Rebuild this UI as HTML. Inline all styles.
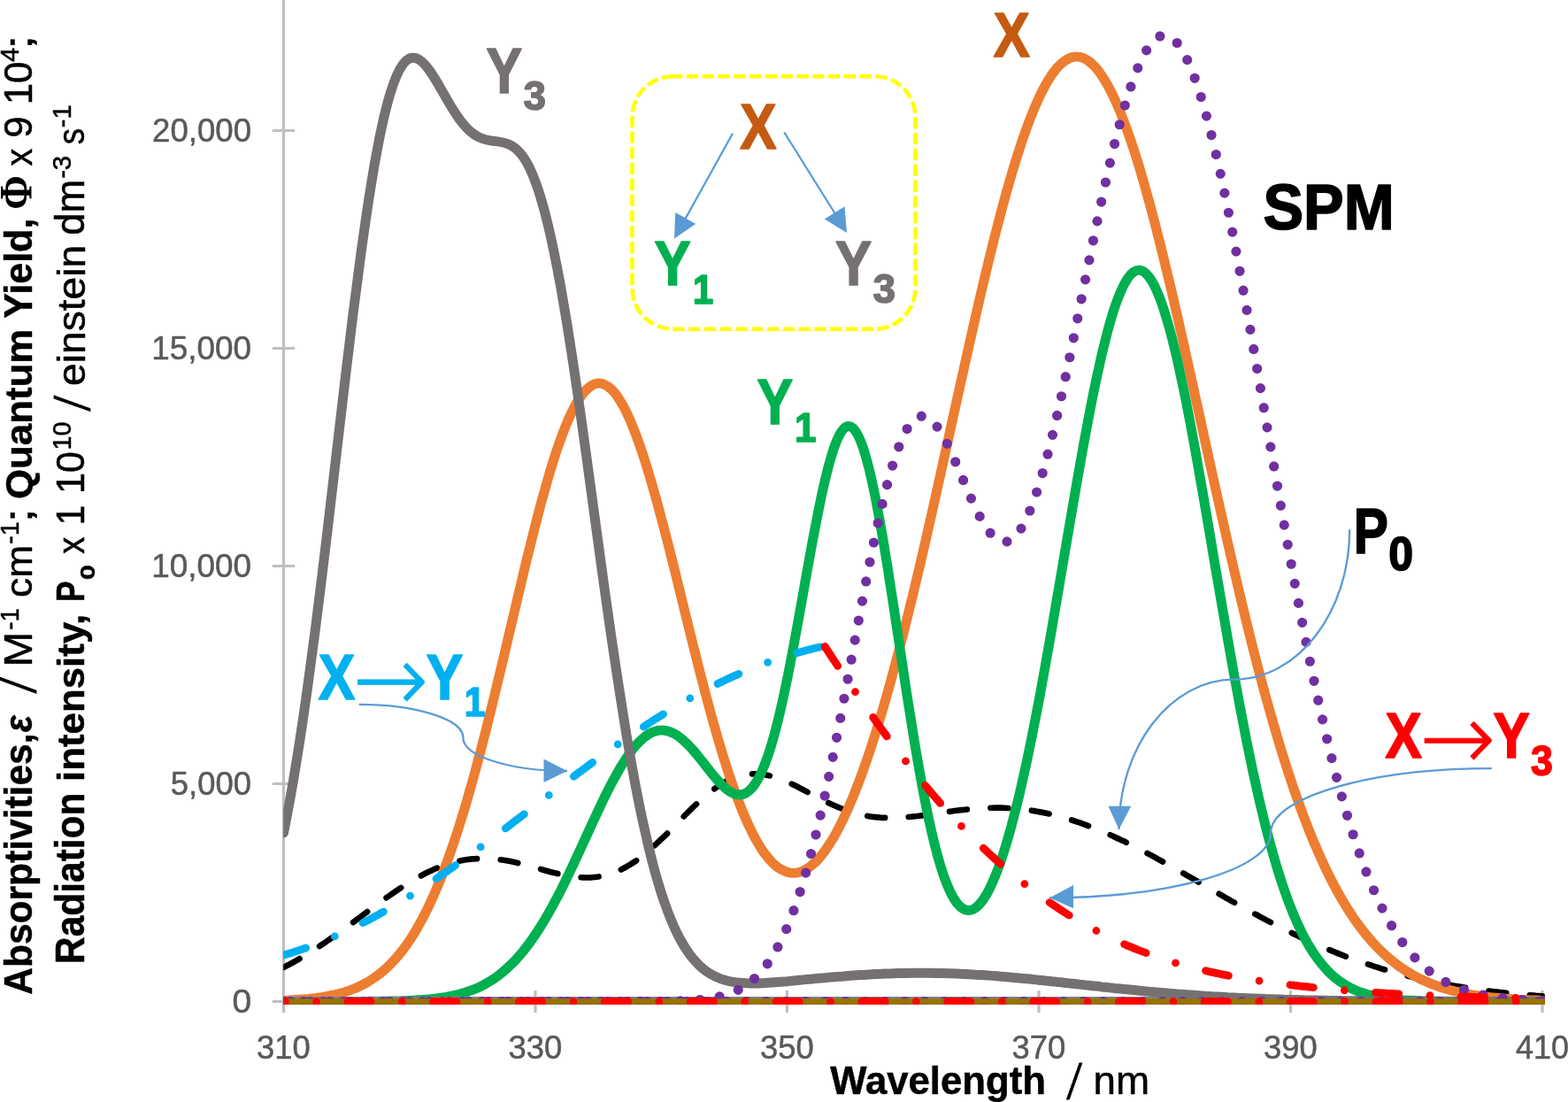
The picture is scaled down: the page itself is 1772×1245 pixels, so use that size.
<!DOCTYPE html>
<html lang="en">
<head>
<meta charset="utf-8">
<title>Absorptivities, quantum yields and radiation intensity versus wavelength</title>
<style>
html,body{margin:0;padding:0;background:#fff}
body{width:1772px;height:1245px;overflow:hidden}
svg{display:block}
.c{fill:none;stroke-linecap:round;stroke-linejoin:round}
</style>
</head>
<body>
<svg width="1772" height="1245" viewBox="0 0 1772 1245">
<rect width="1772" height="1245" fill="#fff"/>
<defs><clipPath id="plot"><rect x="320.2" y="-20" width="1425.70" height="1155.0"/></clipPath></defs>
<g stroke="#BFBFBF" stroke-width="3.2" fill="none">
<path d="M320.5 -5V1144"/>
<path d="M320.5 1131.5H1744.3"/>
<path d="M307.8 1131.5H333M307.8 885.5H333M307.8 639.5H333M307.8 393.5H333M307.8 147.5H333M320.5 1119V1144M605 1119V1144M889.5 1119V1144M1174 1119V1144M1458.5 1119V1144M1743 1119V1144"/>
</g>
<g>
<text transform="matrix(0.3895 0 0 0.3690 262.59 1144.38)" font-family="'Liberation Sans',sans-serif" font-size="100" fill="#595959" stroke="#595959" stroke-width="0.5" stroke-linejoin="round" vector-effect="non-scaling-stroke">0</text>
<text transform="matrix(0.3645 0 0 0.3690 192.79 898.38)" font-family="'Liberation Sans',sans-serif" font-size="100" fill="#595959" stroke="#595959" stroke-width="0.5" stroke-linejoin="round" vector-effect="non-scaling-stroke">5,000</text>
<text transform="matrix(0.3691 0 0 0.3690 171.18 652.38)" font-family="'Liberation Sans',sans-serif" font-size="100" fill="#595959" stroke="#595959" stroke-width="0.5" stroke-linejoin="round" vector-effect="non-scaling-stroke">10,000</text>
<text transform="matrix(0.3691 0 0 0.3690 171.18 406.38)" font-family="'Liberation Sans',sans-serif" font-size="100" fill="#595959" stroke="#595959" stroke-width="0.5" stroke-linejoin="round" vector-effect="non-scaling-stroke">15,000</text>
<text transform="matrix(0.3660 0 0 0.3690 172.12 160.38)" font-family="'Liberation Sans',sans-serif" font-size="100" fill="#595959" stroke="#595959" stroke-width="0.5" stroke-linejoin="round" vector-effect="non-scaling-stroke">20,000</text>
<text transform="matrix(0.3642 0 0 0.3704 289.89 1195.58)" font-family="'Liberation Sans',sans-serif" font-size="100" fill="#595959" stroke="#595959" stroke-width="0.5" stroke-linejoin="round" vector-effect="non-scaling-stroke">310</text>
<text transform="matrix(0.3642 0 0 0.3704 574.39 1195.58)" font-family="'Liberation Sans',sans-serif" font-size="100" fill="#595959" stroke="#595959" stroke-width="0.5" stroke-linejoin="round" vector-effect="non-scaling-stroke">330</text>
<text transform="matrix(0.3642 0 0 0.3704 858.89 1195.58)" font-family="'Liberation Sans',sans-serif" font-size="100" fill="#595959" stroke="#595959" stroke-width="0.5" stroke-linejoin="round" vector-effect="non-scaling-stroke">350</text>
<text transform="matrix(0.3642 0 0 0.3704 1143.39 1195.58)" font-family="'Liberation Sans',sans-serif" font-size="100" fill="#595959" stroke="#595959" stroke-width="0.5" stroke-linejoin="round" vector-effect="non-scaling-stroke">370</text>
<text transform="matrix(0.3642 0 0 0.3704 1427.89 1195.58)" font-family="'Liberation Sans',sans-serif" font-size="100" fill="#595959" stroke="#595959" stroke-width="0.5" stroke-linejoin="round" vector-effect="non-scaling-stroke">390</text>
<text transform="matrix(0.3607 0 0 0.3704 1712.95 1195.58)" font-family="'Liberation Sans',sans-serif" font-size="100" fill="#595959" stroke="#595959" stroke-width="0.5" stroke-linejoin="round" vector-effect="non-scaling-stroke">410</text>
</g>
<g clip-path="url(#plot)">
<path class="c" d="M320.5 1092.9C322.9 1091.7 325.2 1090.4 327.6 1089.2C330 1087.9 332.4 1086.6 334.7 1085.3C337.1 1083.9 339.5 1082.5 341.8 1081.1C344.2 1079.7 346.6 1078.3 348.9 1076.8C351.3 1075.4 353.7 1073.9 356.1 1072.3C358.4 1070.8 360.8 1069.2 363.2 1067.6C365.5 1066.1 367.9 1064.4 370.3 1062.8C372.7 1061.2 375 1059.5 377.4 1057.8C379.8 1056.1 382.1 1054.4 384.5 1052.7C386.9 1051 389.3 1049.3 391.6 1047.5C394 1045.8 396.4 1044 398.7 1042.3C401.1 1040.5 403.5 1038.7 405.9 1037C408.2 1035.2 410.6 1033.4 413 1031.6C415.3 1029.9 417.7 1028.1 420.1 1026.3C422.4 1024.6 424.8 1022.8 427.2 1021.1C429.6 1019.3 431.9 1017.6 434.3 1015.9C436.7 1014.2 439 1012.5 441.4 1010.9C443.8 1009.2 446.2 1007.6 448.5 1006C450.9 1004.4 453.3 1002.8 455.6 1001.3C458 999.8 460.4 998.3 462.8 996.8C465.1 995.4 467.5 994 469.9 992.6C472.2 991.3 474.6 990 477 988.7C479.3 987.5 481.7 986.3 484.1 985.1C486.5 984 488.8 982.9 491.2 981.8C493.6 980.8 495.9 979.8 498.3 978.9C500.7 978 503.1 977.2 505.4 976.4C507.8 975.7 510.2 975 512.5 974.3C514.9 973.7 517.3 973.1 519.6 972.6C522 972.1 524.4 971.7 526.8 971.3C529.1 971 531.5 970.7 533.9 970.4C536.2 970.2 538.6 970.1 541 970C543.4 969.9 545.7 969.9 548.1 969.9C550.5 969.9 552.8 970 555.2 970.2C557.6 970.4 560 970.6 562.3 970.9C564.7 971.1 567.1 971.5 569.4 971.8C571.8 972.2 574.2 972.6 576.5 973.1C578.9 973.6 581.3 974.1 583.7 974.6C586 975.2 588.4 975.8 590.8 976.4C593.1 977 595.5 977.6 597.9 978.3C600.3 978.9 602.6 979.6 605 980.2C607.4 980.9 609.7 981.6 612.1 982.2C614.5 982.9 616.9 983.6 619.2 984.2C621.6 984.9 624 985.5 626.3 986.1C628.7 986.7 631.1 987.3 633.5 987.8C635.8 988.3 638.2 988.8 640.6 989.2C642.9 989.7 645.3 990.1 647.7 990.4C650 990.7 652.4 991 654.8 991.1C657.2 991.3 659.5 991.4 661.9 991.5C664.3 991.5 666.6 991.4 669 991.3C671.4 991.1 673.8 990.8 676.1 990.5C678.5 990.1 680.9 989.7 683.2 989.1C685.6 988.6 688 987.9 690.3 987.1C692.7 986.3 695.1 985.4 697.5 984.4C699.8 983.4 702.2 982.3 704.6 981.1C706.9 979.8 709.3 978.5 711.7 977C714.1 975.6 716.4 974 718.8 972.4C721.2 970.7 723.5 968.9 725.9 967.1C728.3 965.2 730.7 963.3 733 961.2C735.4 959.2 737.8 957.1 740.1 954.9C742.5 952.7 744.9 950.5 747.2 948.2C749.6 945.9 752 943.6 754.4 941.2C756.7 938.8 759.1 936.4 761.5 934C763.8 931.6 766.2 929.1 768.6 926.7C771 924.3 773.3 921.9 775.7 919.5C778.1 917.1 780.4 914.8 782.8 912.4C785.2 910.1 787.6 907.9 789.9 905.7C792.3 903.5 794.7 901.4 797 899.4C799.4 897.4 801.8 895.5 804.1 893.6C806.5 891.8 808.9 890.1 811.3 888.5C813.6 886.9 816 885.4 818.4 884.1C820.7 882.7 823.1 881.5 825.5 880.5C827.9 879.4 830.2 878.4 832.6 877.6C835 876.8 837.3 876.2 839.7 875.7C842.1 875.2 844.5 874.8 846.8 874.6C849.2 874.3 851.6 874.2 853.9 874.3C856.3 874.3 858.7 874.5 861 874.8C863.4 875.1 865.8 875.5 868.2 876C870.5 876.5 872.9 877.2 875.3 877.9C877.6 878.6 880 879.5 882.4 880.4C884.8 881.3 887.1 882.3 889.5 883.3C891.9 884.3 894.2 885.5 896.6 886.6C899 887.8 901.4 889 903.7 890.2C906.1 891.4 908.5 892.6 910.8 893.9C913.2 895.2 915.6 896.4 917.9 897.7C920.3 899 922.7 900.2 925.1 901.4C927.4 902.7 929.8 903.9 932.2 905.1C934.5 906.2 936.9 907.4 939.3 908.5C941.7 909.6 944 910.6 946.4 911.6C948.8 912.6 951.1 913.6 953.5 914.5C955.9 915.4 958.3 916.2 960.6 917C963 917.7 965.4 918.5 967.7 919.1C970.1 919.7 972.5 920.3 974.9 920.8C977.2 921.3 979.6 921.8 982 922.2C984.3 922.6 986.7 922.9 989.1 923.1C991.4 923.4 993.8 923.6 996.2 923.8C998.6 923.9 1000.9 924 1003.3 924C1005.7 924.1 1008 924.1 1010.4 924C1012.8 924 1015.2 923.9 1017.5 923.7C1019.9 923.6 1022.3 923.4 1024.6 923.2C1027 923 1029.4 922.8 1031.8 922.5C1034.1 922.3 1036.5 922 1038.9 921.7C1041.2 921.4 1043.6 921.1 1046 920.7C1048.3 920.4 1050.7 920.1 1053.1 919.7C1055.5 919.4 1057.8 919 1060.2 918.7C1062.6 918.3 1064.9 918 1067.3 917.7C1069.7 917.3 1072.1 917 1074.4 916.7C1076.8 916.3 1079.2 916 1081.5 915.7C1083.9 915.4 1086.3 915.1 1088.7 914.9C1091 914.6 1093.4 914.4 1095.8 914.2C1098.1 913.9 1100.5 913.7 1102.9 913.6C1105.2 913.4 1107.6 913.2 1110 913.1C1112.4 913 1114.7 912.9 1117.1 912.8C1119.5 912.7 1121.8 912.7 1124.2 912.7C1126.6 912.7 1129 912.7 1131.3 912.7C1133.7 912.8 1136.1 912.9 1138.4 913C1140.8 913.1 1143.2 913.2 1145.5 913.4C1147.9 913.6 1150.3 913.8 1152.7 914C1155 914.3 1157.4 914.6 1159.8 914.9C1162.1 915.2 1164.5 915.5 1166.9 915.9C1169.3 916.2 1171.6 916.7 1174 917.1C1176.4 917.5 1178.7 918 1181.1 918.5C1183.5 919 1185.9 919.5 1188.2 920.1C1190.6 920.7 1193 921.2 1195.3 921.9C1197.7 922.5 1200.1 923.2 1202.4 923.8C1204.8 924.5 1207.2 925.2 1209.6 926C1211.9 926.7 1214.3 927.5 1216.7 928.3C1219 929.1 1221.4 929.9 1223.8 930.8C1226.2 931.6 1228.5 932.5 1230.9 933.4C1233.3 934.3 1235.6 935.3 1238 936.2C1240.4 937.2 1242.8 938.1 1245.1 939.1C1247.5 940.2 1249.9 941.2 1252.2 942.2C1254.6 943.3 1257 944.3 1259.3 945.4C1261.7 946.5 1264.1 947.6 1266.5 948.8C1268.8 949.9 1271.2 951 1273.6 952.2C1275.9 953.4 1278.3 954.5 1280.7 955.7C1283.1 956.9 1285.4 958.1 1287.8 959.4C1290.2 960.6 1292.5 961.8 1294.9 963.1C1297.3 964.4 1299.7 965.6 1302 966.9C1304.4 968.2 1306.8 969.5 1309.1 970.8C1311.5 972.1 1313.9 973.4 1316.2 974.7C1318.6 976 1321 977.4 1323.4 978.7C1325.7 980 1328.1 981.4 1330.5 982.7C1332.8 984.1 1335.2 985.4 1337.6 986.8C1340 988.1 1342.3 989.5 1344.7 990.8C1347.1 992.2 1349.4 993.6 1351.8 994.9C1354.2 996.3 1356.6 997.7 1358.9 999.1C1361.3 1000.4 1363.7 1001.8 1366 1003.2C1368.4 1004.5 1370.8 1005.9 1373.1 1007.3C1375.5 1008.6 1377.9 1010 1380.3 1011.3C1382.6 1012.7 1385 1014 1387.4 1015.4C1389.7 1016.7 1392.1 1018.1 1394.5 1019.4C1396.9 1020.8 1399.2 1022.1 1401.6 1023.4C1404 1024.7 1406.3 1026.1 1408.7 1027.4C1411.1 1028.7 1413.5 1030 1415.8 1031.3C1418.2 1032.6 1420.6 1033.8 1422.9 1035.1C1425.3 1036.4 1427.7 1037.7 1430 1038.9C1432.4 1040.2 1434.8 1041.4 1437.2 1042.6C1439.5 1043.9 1441.9 1045.1 1444.3 1046.3C1446.6 1047.5 1449 1048.7 1451.4 1049.9C1453.8 1051.1 1456.1 1052.2 1458.5 1053.4C1460.9 1054.6 1463.2 1055.7 1465.6 1056.8C1468 1058 1470.4 1059.1 1472.7 1060.2C1475.1 1061.3 1477.5 1062.4 1479.8 1063.4C1482.2 1064.5 1484.6 1065.6 1487 1066.6C1489.3 1067.7 1491.7 1068.7 1494.1 1069.7C1496.4 1070.7 1498.8 1071.7 1501.2 1072.7C1503.5 1073.7 1505.9 1074.7 1508.3 1075.6C1510.7 1076.6 1513 1077.5 1515.4 1078.4C1517.8 1079.3 1520.1 1080.3 1522.5 1081.1C1524.9 1082 1527.3 1082.9 1529.6 1083.8C1532 1084.6 1534.4 1085.5 1536.7 1086.3C1539.1 1087.1 1541.5 1087.9 1543.8 1088.7C1546.2 1089.5 1548.6 1090.3 1551 1091.1C1553.3 1091.9 1555.7 1092.6 1558.1 1093.3C1560.4 1094.1 1562.8 1094.8 1565.2 1095.5C1567.6 1096.2 1569.9 1096.9 1572.3 1097.6C1574.7 1098.3 1577 1098.9 1579.4 1099.6C1581.8 1100.2 1584.2 1100.8 1586.5 1101.5C1588.9 1102.1 1591.3 1102.7 1593.6 1103.3C1596 1103.9 1598.4 1104.4 1600.8 1105C1603.1 1105.6 1605.5 1106.1 1607.9 1106.6C1610.2 1107.2 1612.6 1107.7 1615 1108.2C1617.3 1108.7 1619.7 1109.2 1622.1 1109.7C1624.5 1110.2 1626.8 1110.7 1629.2 1111.1C1631.6 1111.6 1633.9 1112 1636.3 1112.5C1638.7 1112.9 1641.1 1113.3 1643.4 1113.7C1645.8 1114.1 1648.2 1114.5 1650.5 1114.9C1652.9 1115.3 1655.3 1115.7 1657.6 1116.1C1660 1116.4 1662.4 1116.8 1664.8 1117.1C1667.1 1117.5 1669.5 1117.8 1671.9 1118.1C1674.2 1118.5 1676.6 1118.8 1679 1119.1C1681.4 1119.4 1683.7 1119.7 1686.1 1120C1688.5 1120.3 1690.8 1120.5 1693.2 1120.8C1695.6 1121.1 1698 1121.4 1700.3 1121.6C1702.7 1121.9 1705.1 1122.1 1707.4 1122.3C1709.8 1122.6 1712.2 1122.8 1714.5 1123C1716.9 1123.3 1719.3 1123.5 1721.7 1123.7C1724 1123.9 1726.4 1124.1 1728.8 1124.3C1731.1 1124.5 1733.5 1124.7 1735.9 1124.9C1738.3 1125 1740.6 1125.2 1743 1125.4" stroke="#000" stroke-width="6.66" stroke-dasharray="19.98 26.65" stroke-dashoffset="-0.5"/>
<path class="c" d="M320.5 1130.4C322.9 1130.3 325.2 1130.2 327.6 1130C330 1129.9 332.4 1129.8 334.7 1129.6C337.1 1129.5 339.5 1129.3 341.8 1129.1C344.2 1128.9 346.6 1128.7 348.9 1128.5C351.3 1128.2 353.7 1127.9 356.1 1127.7C358.4 1127.4 360.8 1127 363.2 1126.7C365.5 1126.3 367.9 1125.9 370.3 1125.5C372.7 1125 375 1124.5 377.4 1124C379.8 1123.4 382.1 1122.9 384.5 1122.2C386.9 1121.6 389.3 1120.8 391.6 1120.1C394 1119.3 396.4 1118.4 398.7 1117.5C401.1 1116.6 403.5 1115.5 405.9 1114.4C408.2 1113.3 410.6 1112.1 413 1110.8C415.3 1109.5 417.7 1108.1 420.1 1106.5C422.4 1105 424.8 1103.4 427.2 1101.6C429.6 1099.8 431.9 1097.8 434.3 1095.8C436.7 1093.7 439 1091.5 441.4 1089.1C443.8 1086.7 446.2 1084.1 448.5 1081.4C450.9 1078.6 453.3 1075.7 455.6 1072.6C458 1069.4 460.4 1066.1 462.8 1062.6C465.1 1059.1 467.5 1055.3 469.9 1051.3C472.2 1047.3 474.6 1043.1 477 1038.7C479.3 1034.3 481.7 1029.6 484.1 1024.6C486.5 1019.7 488.8 1014.5 491.2 1009.1C493.6 1003.6 495.9 997.9 498.3 991.9C500.7 986 503.1 979.7 505.4 973.2C507.8 966.7 510.2 959.9 512.5 952.9C514.9 945.9 517.3 938.6 519.6 931C522 923.5 524.4 915.7 526.8 907.6C529.1 899.6 531.5 891.3 533.9 882.8C536.2 874.2 538.6 865.5 541 856.5C543.4 847.6 545.7 838.4 548.1 829.1C550.5 819.8 552.8 810.3 555.2 800.6C557.6 791 560 781.2 562.3 771.3C564.7 761.5 567.1 751.5 569.4 741.5C571.8 731.4 574.2 721.3 576.5 711.2C578.9 701.1 581.3 691 583.7 681C586 670.9 588.4 660.9 590.8 651C593.1 641.1 595.5 631.3 597.9 621.7C600.3 612.1 602.6 602.6 605 593.3C607.4 584.1 609.7 575 612.1 566.3C614.5 557.5 616.9 549 619.2 540.9C621.6 532.7 624 524.9 626.3 517.5C628.7 510.1 631.1 503.1 633.5 496.5C635.8 489.9 638.2 483.7 640.6 478C642.9 472.4 645.3 467.2 647.7 462.5C650 457.8 652.4 453.7 654.8 450.1C657.2 446.5 659.5 443.4 661.9 441C664.3 438.5 666.6 436.6 669 435.3C671.4 434 673.8 433.2 676.1 433.1C678.5 433 680.9 433.4 683.2 434.5C685.6 435.5 688 437.1 690.3 439.3C692.7 441.5 695.1 444.3 697.5 447.6C699.8 451 702.2 454.8 704.6 459.2C706.9 463.6 709.3 468.5 711.7 473.9C714.1 479.3 716.4 485.2 718.8 491.5C721.2 497.8 723.5 504.6 725.9 511.7C728.3 518.9 730.7 526.4 733 534.2C735.4 542.1 737.8 550.3 740.1 558.7C742.5 567.2 744.9 575.9 747.2 584.8C749.6 593.7 752 602.9 754.4 612.2C756.7 621.5 759.1 630.9 761.5 640.4C763.8 650 766.2 659.6 768.6 669.2C771 678.8 773.3 688.5 775.7 698.2C778.1 707.8 780.4 717.4 782.8 726.9C785.2 736.5 787.6 745.9 789.9 755.2C792.3 764.5 794.7 773.7 797 782.7C799.4 791.7 801.8 800.5 804.1 809.1C806.5 817.7 808.9 826.1 811.3 834.3C813.6 842.4 816 850.3 818.4 857.9C820.7 865.5 823.1 872.8 825.5 879.8C827.9 886.8 830.2 893.5 832.6 899.9C835 906.2 837.3 912.3 839.7 918C842.1 923.7 844.5 929 846.8 934C849.2 939 851.6 943.7 853.9 948C856.3 952.3 858.7 956.2 861 959.8C863.4 963.3 865.8 966.5 868.2 969.4C870.5 972.2 872.9 974.7 875.3 976.8C877.6 978.9 880 980.7 882.4 982.1C884.8 983.5 887.1 984.5 889.5 985.2C891.9 985.9 894.2 986.3 896.6 986.3C899 986.3 901.4 985.9 903.7 985.2C906.1 984.5 908.5 983.5 910.8 982.2C913.2 980.8 915.6 979.1 917.9 977.1C920.3 975.1 922.7 972.8 925.1 970.2C927.4 967.5 929.8 964.6 932.2 961.4C934.5 958.1 936.9 954.6 939.3 950.7C941.7 946.9 944 942.7 946.4 938.3C948.8 933.9 951.1 929.2 953.5 924.2C955.9 919.2 958.3 913.9 960.6 908.4C963 902.8 965.4 897 967.7 891C970.1 884.9 972.5 878.6 974.9 872C977.2 865.4 979.6 858.6 982 851.5C984.3 844.4 986.7 837.1 989.1 829.6C991.4 822 993.8 814.2 996.2 806.2C998.6 798.2 1000.9 790 1003.3 781.6C1005.7 773.2 1008 764.6 1010.4 755.7C1012.8 746.9 1015.2 737.9 1017.5 728.7C1019.9 719.5 1022.3 710.1 1024.6 700.6C1027 691.1 1029.4 681.4 1031.8 671.5C1034.1 661.7 1036.5 651.7 1038.9 641.6C1041.2 631.5 1043.6 621.3 1046 610.9C1048.3 600.6 1050.7 590.2 1053.1 579.6C1055.5 569.1 1057.8 558.5 1060.2 547.9C1062.6 537.2 1064.9 526.5 1067.3 515.8C1069.7 505 1072.1 494.3 1074.4 483.5C1076.8 472.7 1079.2 461.9 1081.5 451.2C1083.9 440.4 1086.3 429.7 1088.7 419.1C1091 408.4 1093.4 397.8 1095.8 387.2C1098.1 376.7 1100.5 366.3 1102.9 355.9C1105.2 345.6 1107.6 335.4 1110 325.3C1112.4 315.3 1114.7 305.3 1117.1 295.6C1119.5 285.9 1121.8 276.3 1124.2 266.9C1126.6 257.6 1129 248.4 1131.3 239.5C1133.7 230.6 1136.1 221.9 1138.4 213.5C1140.8 205.1 1143.2 197 1145.5 189.2C1147.9 181.3 1150.3 173.8 1152.7 166.5C1155 159.3 1157.4 152.4 1159.8 145.8C1162.1 139.3 1164.5 133.1 1166.9 127.2C1169.3 121.4 1171.6 115.9 1174 110.8C1176.4 105.7 1178.7 101 1181.1 96.7C1183.5 92.4 1185.9 88.5 1188.2 85C1190.6 81.6 1193 78.5 1195.3 75.9C1197.7 73.2 1200.1 71 1202.4 69.3C1204.8 67.5 1207.2 66.2 1209.6 65.3C1211.9 64.5 1214.3 64 1216.7 64.1C1219 64.1 1221.4 64.5 1223.8 65.4C1226.2 66.3 1228.5 67.7 1230.9 69.5C1233.3 71.3 1235.6 73.5 1238 76.1C1240.4 78.8 1242.8 81.9 1245.1 85.4C1247.5 88.9 1249.9 92.8 1252.2 97.1C1254.6 101.5 1257 106.2 1259.3 111.3C1261.7 116.4 1264.1 121.9 1266.5 127.8C1268.8 133.7 1271.2 139.9 1273.6 146.5C1275.9 153.1 1278.3 160 1280.7 167.3C1283.1 174.5 1285.4 182.1 1287.8 189.9C1290.2 197.8 1292.5 206 1294.9 214.4C1297.3 222.8 1299.7 231.5 1302 240.4C1304.4 249.4 1306.8 258.5 1309.1 267.9C1311.5 277.3 1313.9 286.9 1316.2 296.6C1318.6 306.4 1321 316.3 1323.4 326.4C1325.7 336.5 1328.1 346.7 1330.5 357.1C1332.8 367.4 1335.2 377.9 1337.6 388.4C1340 398.9 1342.3 409.6 1344.7 420.3C1347.1 430.9 1349.4 441.7 1351.8 452.5C1354.2 463.2 1356.6 474 1358.9 484.8C1361.3 495.6 1363.7 506.4 1366 517.2C1368.4 527.9 1370.8 538.7 1373.1 549.4C1375.5 560 1377.9 570.7 1380.3 581.2C1382.6 591.8 1385 602.3 1387.4 612.7C1389.7 623.1 1392.1 633.4 1394.5 643.5C1396.9 653.7 1399.2 663.8 1401.6 673.7C1404 683.6 1406.3 693.4 1408.7 703.1C1411.1 712.7 1413.5 722.3 1415.8 731.6C1418.2 740.9 1420.6 750.1 1422.9 759.1C1425.3 768.1 1427.7 777 1430 785.6C1432.4 794.3 1434.8 802.8 1437.2 811.1C1439.5 819.3 1441.9 827.4 1444.3 835.3C1446.6 843.3 1449 851 1451.4 858.5C1453.8 866 1456.1 873.3 1458.5 880.4C1460.9 887.6 1463.2 894.5 1465.6 901.2C1468 907.9 1470.4 914.5 1472.7 920.8C1475.1 927.1 1477.5 933.2 1479.8 939.2C1482.2 945.1 1484.6 950.9 1487 956.4C1489.3 962 1491.7 967.3 1494.1 972.5C1496.4 977.7 1498.8 982.7 1501.2 987.5C1503.5 992.3 1505.9 996.9 1508.3 1001.3C1510.7 1005.8 1513 1010.1 1515.4 1014.2C1517.8 1018.3 1520.1 1022.2 1522.5 1026C1524.9 1029.8 1527.3 1033.4 1529.6 1036.9C1532 1040.4 1534.4 1043.7 1536.7 1046.9C1539.1 1050 1541.5 1053.1 1543.8 1056C1546.2 1058.9 1548.6 1061.6 1551 1064.3C1553.3 1066.9 1555.7 1069.4 1558.1 1071.8C1560.4 1074.2 1562.8 1076.5 1565.2 1078.6C1567.6 1080.8 1569.9 1082.8 1572.3 1084.8C1574.7 1086.7 1577 1088.6 1579.4 1090.3C1581.8 1092.1 1584.2 1093.7 1586.5 1095.3C1588.9 1096.9 1591.3 1098.4 1593.6 1099.8C1596 1101.2 1598.4 1102.5 1600.8 1103.7C1603.1 1105 1605.5 1106.2 1607.9 1107.3C1610.2 1108.4 1612.6 1109.4 1615 1110.4C1617.3 1111.4 1619.7 1112.3 1622.1 1113.2C1624.5 1114.1 1626.8 1114.9 1629.2 1115.7C1631.6 1116.4 1633.9 1117.1 1636.3 1117.8C1638.7 1118.5 1641.1 1119.1 1643.4 1119.7C1645.8 1120.3 1648.2 1120.8 1650.5 1121.4C1652.9 1121.9 1655.3 1122.4 1657.6 1122.8C1660 1123.3 1662.4 1123.7 1664.8 1124.1C1667.1 1124.5 1669.5 1124.8 1671.9 1125.2C1674.2 1125.5 1676.6 1125.8 1679 1126.1C1681.4 1126.4 1683.7 1126.7 1686.1 1126.9C1688.5 1127.2 1690.8 1127.4 1693.2 1127.6C1695.6 1127.8 1698 1128 1700.3 1128.2C1702.7 1128.4 1705.1 1128.6 1707.4 1128.7C1709.8 1128.9 1712.2 1129 1714.5 1129.2C1716.9 1129.3 1719.3 1129.4 1721.7 1129.6C1724 1129.7 1726.4 1129.8 1728.8 1129.9C1731.1 1130 1733.5 1130.1 1735.9 1130.1C1738.3 1130.2 1740.6 1130.3 1743 1130.4" stroke="#ED7D31" stroke-width="11"/>
<path class="c" d="M320.5 1131.5C322.9 1131.5 325.2 1131.5 327.6 1131.5C330 1131.5 332.4 1131.5 334.7 1131.5C337.1 1131.5 339.5 1131.5 341.8 1131.5C344.2 1131.5 346.6 1131.5 348.9 1131.5C351.3 1131.5 353.7 1131.5 356.1 1131.5C358.4 1131.5 360.8 1131.5 363.2 1131.5C365.5 1131.5 367.9 1131.5 370.3 1131.5C372.7 1131.5 375 1131.5 377.4 1131.5C379.8 1131.5 382.1 1131.5 384.5 1131.5C386.9 1131.5 389.3 1131.5 391.6 1131.5C394 1131.4 396.4 1131.4 398.7 1131.4C401.1 1131.4 403.5 1131.4 405.9 1131.4C408.2 1131.4 410.6 1131.4 413 1131.4C415.3 1131.4 417.7 1131.3 420.1 1131.3C422.4 1131.3 424.8 1131.3 427.2 1131.2C429.6 1131.2 431.9 1131.2 434.3 1131.2C436.7 1131.1 439 1131.1 441.4 1131C443.8 1131 446.2 1130.9 448.5 1130.9C450.9 1130.8 453.3 1130.7 455.6 1130.7C458 1130.6 460.4 1130.5 462.8 1130.4C465.1 1130.3 467.5 1130.1 469.9 1130C472.2 1129.9 474.6 1129.7 477 1129.6C479.3 1129.4 481.7 1129.2 484.1 1129C486.5 1128.7 488.8 1128.5 491.2 1128.2C493.6 1128 495.9 1127.6 498.3 1127.3C500.7 1127 503.1 1126.6 505.4 1126.2C507.8 1125.7 510.2 1125.3 512.5 1124.7C514.9 1124.2 517.3 1123.6 519.6 1123C522 1122.4 524.4 1121.7 526.8 1120.9C529.1 1120.1 531.5 1119.3 533.9 1118.4C536.2 1117.5 538.6 1116.5 541 1115.4C543.4 1114.3 545.7 1113.1 548.1 1111.8C550.5 1110.5 552.8 1109.1 555.2 1107.6C557.6 1106.1 560 1104.5 562.3 1102.8C564.7 1101 567.1 1099.1 569.4 1097.1C571.8 1095.1 574.2 1093 576.5 1090.7C578.9 1088.4 581.3 1086 583.7 1083.4C586 1080.8 588.4 1078.1 590.8 1075.2C593.1 1072.3 595.5 1069.3 597.9 1066C600.3 1062.8 602.6 1059.5 605 1055.9C607.4 1052.4 609.7 1048.7 612.1 1044.9C614.5 1041 616.9 1037 619.2 1032.9C621.6 1028.7 624 1024.5 626.3 1020C628.7 1015.6 631.1 1011.1 633.5 1006.4C635.8 1001.7 638.2 996.9 640.6 992C642.9 987.2 645.3 982.2 647.7 977.1C650 972.1 652.4 967 654.8 961.9C657.2 956.7 659.5 951.5 661.9 946.4C664.3 941.2 666.6 936 669 930.8C671.4 925.7 673.8 920.6 676.1 915.6C678.5 910.5 680.9 905.6 683.2 900.7C685.6 895.9 688 891.2 690.3 886.6C692.7 882 695.1 877.6 697.5 873.4C699.8 869.2 702.2 865.2 704.6 861.5C706.9 857.7 709.3 854.2 711.7 850.9C714.1 847.6 716.4 844.6 718.8 841.9C721.2 839.2 723.5 836.9 725.9 834.8C728.3 832.7 730.7 830.9 733 829.5C735.4 828.1 737.8 827 740.1 826.3C742.5 825.5 744.9 825.1 747.2 825.1C749.6 825 752 825.3 754.4 825.9C756.7 826.5 759.1 827.5 761.5 828.7C763.8 829.9 766.2 831.5 768.6 833.3C771 835.1 773.3 837.2 775.7 839.5C778.1 841.8 780.4 844.3 782.8 847C785.2 849.7 787.6 852.5 789.9 855.5C792.3 858.4 794.7 861.4 797 864.4C799.4 867.5 801.8 870.5 804.1 873.5C806.5 876.4 808.9 879.3 811.3 881.9C813.6 884.6 816 887.1 818.4 889.2C820.7 891.4 823.1 893.3 825.5 894.7C827.9 896.2 830.2 897.2 832.6 897.7C835 898.2 837.3 898.1 839.7 897.4C842.1 896.7 844.5 895.4 846.8 893.3C849.2 891.2 851.6 888.4 853.9 884.8C856.3 881.1 858.7 876.7 861 871.4C863.4 866.1 865.8 859.9 868.2 852.9C870.5 845.9 872.9 838 875.3 829.2C877.6 820.5 880 811 882.4 800.7C884.8 790.4 887.1 779.4 889.5 767.7C891.9 756.1 894.2 743.9 896.6 731.3C899 718.6 901.4 705.6 903.7 692.4C906.1 679.2 908.5 665.8 910.8 652.5C913.2 639.2 915.6 626 917.9 613.2C920.3 600.4 922.7 588 925.1 576.2C927.4 564.5 929.8 553.4 932.2 543.3C934.5 533.2 936.9 524.1 939.3 516.1C941.7 508.2 944 501.5 946.4 496.1C948.8 490.8 951.1 486.8 953.5 484.4C955.9 482 958.3 481.1 960.6 481.8C963 482.5 965.4 484.7 967.7 488.5C970.1 492.3 972.5 497.7 974.9 504.5C977.2 511.3 979.6 519.5 982 529C984.3 538.5 986.7 549.3 989.1 561.1C991.4 573 993.8 585.8 996.2 599.5C998.6 613.1 1000.9 627.6 1003.3 642.5C1005.7 657.5 1008 672.9 1010.4 688.5C1012.8 704.2 1015.2 720 1017.5 735.8C1019.9 751.6 1022.3 767.3 1024.6 782.7C1027 798.1 1029.4 813.2 1031.8 827.8C1034.1 842.4 1036.5 856.4 1038.9 869.8C1041.2 883.2 1043.6 895.9 1046 907.8C1048.3 919.7 1050.7 930.8 1053.1 941C1055.5 951.2 1057.8 960.6 1060.2 969C1062.6 977.4 1064.9 985 1067.3 991.6C1069.7 998.2 1072.1 1003.8 1074.4 1008.6C1076.8 1013.4 1079.2 1017.3 1081.5 1020.3C1083.9 1023.3 1086.3 1025.5 1088.7 1026.8C1091 1028.1 1093.4 1028.7 1095.8 1028.4C1098.1 1028.1 1100.5 1027.1 1102.9 1025.3C1105.2 1023.6 1107.6 1021.1 1110 1017.9C1112.4 1014.7 1114.7 1010.8 1117.1 1006.3C1119.5 1001.8 1121.8 996.7 1124.2 990.9C1126.6 985.2 1129 978.8 1131.3 971.9C1133.7 964.9 1136.1 957.4 1138.4 949.4C1140.8 941.3 1143.2 932.7 1145.5 923.6C1147.9 914.4 1150.3 904.8 1152.7 894.7C1155 884.6 1157.4 874 1159.8 863C1162.1 851.9 1164.5 840.5 1166.9 828.6C1169.3 816.8 1171.6 804.5 1174 792C1176.4 779.4 1178.7 766.5 1181.1 753.3C1183.5 740.2 1185.9 726.7 1188.2 713.1C1190.6 699.5 1193 685.7 1195.3 671.8C1197.7 657.8 1200.1 643.8 1202.4 629.8C1204.8 615.8 1207.2 601.8 1209.6 587.9C1211.9 574 1214.3 560.2 1216.7 546.6C1219 533 1221.4 519.6 1223.8 506.5C1226.2 493.4 1228.5 480.7 1230.9 468.4C1233.3 456.1 1235.6 444.2 1238 432.9C1240.4 421.6 1242.8 410.8 1245.1 400.6C1247.5 390.5 1249.9 381 1252.2 372.3C1254.6 363.6 1257 355.6 1259.3 348.4C1261.7 341.2 1264.1 334.8 1266.5 329.4C1268.8 323.9 1271.2 319.3 1273.6 315.7C1275.9 312.1 1278.3 309.3 1280.7 307.6C1283.1 305.9 1285.4 305.1 1287.8 305.3C1290.2 305.5 1292.5 306.6 1294.9 308.8C1297.3 310.9 1299.7 314 1302 318C1304.4 322 1306.8 327 1309.1 332.8C1311.5 338.6 1313.9 345.3 1316.2 352.8C1318.6 360.3 1321 368.6 1323.4 377.6C1325.7 386.7 1328.1 396.4 1330.5 406.8C1332.8 417.2 1335.2 428.2 1337.6 439.8C1340 451.3 1342.3 463.4 1344.7 475.8C1347.1 488.3 1349.4 501.2 1351.8 514.4C1354.2 527.6 1356.6 541.1 1358.9 554.8C1361.3 568.5 1363.7 582.3 1366 596.3C1368.4 610.3 1370.8 624.3 1373.1 638.3C1375.5 652.3 1377.9 666.3 1380.3 680.2C1382.6 694.1 1385 707.9 1387.4 721.5C1389.7 735.1 1392.1 748.5 1394.5 761.6C1396.9 774.7 1399.2 787.6 1401.6 800.1C1404 812.6 1406.3 824.9 1408.7 836.7C1411.1 848.5 1413.5 860 1415.8 871.1C1418.2 882.2 1420.6 892.8 1422.9 903.1C1425.3 913.3 1427.7 923.2 1430 932.6C1432.4 942 1434.8 950.9 1437.2 959.5C1439.5 968 1441.9 976.1 1444.3 983.8C1446.6 991.4 1449 998.7 1451.4 1005.5C1453.8 1012.4 1456.1 1018.8 1458.5 1024.8C1460.9 1030.9 1463.2 1036.5 1465.6 1041.8C1468 1047.1 1470.4 1052 1472.7 1056.6C1475.1 1061.2 1477.5 1065.5 1479.8 1069.4C1482.2 1073.4 1484.6 1077 1487 1080.4C1489.3 1083.8 1491.7 1086.9 1494.1 1089.7C1496.4 1092.6 1498.8 1095.2 1501.2 1097.6C1503.5 1100 1505.9 1102.2 1508.3 1104.2C1510.7 1106.2 1513 1108 1515.4 1109.6C1517.8 1111.3 1520.1 1112.8 1522.5 1114.1C1524.9 1115.5 1527.3 1116.7 1529.6 1117.8C1532 1118.9 1534.4 1119.9 1536.7 1120.8C1539.1 1121.6 1541.5 1122.4 1543.8 1123.1C1546.2 1123.8 1548.6 1124.5 1551 1125C1553.3 1125.6 1555.7 1126.1 1558.1 1126.5C1560.4 1127 1562.8 1127.4 1565.2 1127.7C1567.6 1128.1 1569.9 1128.4 1572.3 1128.6C1574.7 1128.9 1577 1129.1 1579.4 1129.4C1581.8 1129.6 1584.2 1129.7 1586.5 1129.9C1588.9 1130.1 1591.3 1130.2 1593.6 1130.3C1596 1130.4 1598.4 1130.5 1600.8 1130.6C1603.1 1130.7 1605.5 1130.8 1607.9 1130.9C1610.2 1130.9 1612.6 1131 1615 1131C1617.3 1131.1 1619.7 1131.1 1622.1 1131.2C1624.5 1131.2 1626.8 1131.2 1629.2 1131.3C1631.6 1131.3 1633.9 1131.3 1636.3 1131.3C1638.7 1131.4 1641.1 1131.4 1643.4 1131.4C1645.8 1131.4 1648.2 1131.4 1650.5 1131.4C1652.9 1131.4 1655.3 1131.4 1657.6 1131.4C1660 1131.4 1662.4 1131.5 1664.8 1131.5C1667.1 1131.5 1669.5 1131.5 1671.9 1131.5C1674.2 1131.5 1676.6 1131.5 1679 1131.5C1681.4 1131.5 1683.7 1131.5 1686.1 1131.5C1688.5 1131.5 1690.8 1131.5 1693.2 1131.5C1695.6 1131.5 1698 1131.5 1700.3 1131.5C1702.7 1131.5 1705.1 1131.5 1707.4 1131.5C1709.8 1131.5 1712.2 1131.5 1714.5 1131.5C1716.9 1131.5 1719.3 1131.5 1721.7 1131.5C1724 1131.5 1726.4 1131.5 1728.8 1131.5C1731.1 1131.5 1733.5 1131.5 1735.9 1131.5C1738.3 1131.5 1740.6 1131.5 1743 1131.5" stroke="#00B050" stroke-width="11"/>
<path class="c" d="M320.5 1131.5H1745.9" stroke="#808080" stroke-width="11"/>
<path class="c" d="M320.5 940.8C322.9 929.2 325.2 916.8 327.6 903.8C330 890.7 332.4 876.9 334.7 862.4C337.1 847.8 339.5 832.5 341.8 816.6C344.2 800.6 346.6 784 348.9 766.7C351.3 749.4 353.7 731.5 356.1 713.1C358.4 694.7 360.8 675.8 363.2 656.4C365.5 637.1 367.9 617.4 370.3 597.4C372.7 577.4 375 557.2 377.4 536.8C379.8 516.5 382.1 496.2 384.5 475.9C386.9 455.6 389.3 435.5 391.6 415.6C394 395.8 396.4 376.2 398.7 357.2C401.1 338.2 403.5 319.6 405.9 301.8C408.2 284 410.6 266.8 413 250.6C415.3 234.3 417.7 218.9 420.1 204.5C422.4 190.1 424.8 176.7 427.2 164.4C429.6 152.1 431.9 140.9 434.3 130.9C436.7 120.9 439 112 441.4 104.3C443.8 96.7 446.2 90.2 448.5 84.9C450.9 79.6 453.3 75.4 455.6 72.3C458 69.2 460.4 67.2 462.8 66.1C465.1 65 467.5 64.9 469.9 65.6C472.2 66.3 474.6 67.8 477 69.9C479.3 72 481.7 74.7 484.1 77.9C486.5 81 488.8 84.6 491.2 88.5C493.6 92.3 495.9 96.4 498.3 100.5C500.7 104.6 503.1 108.8 505.4 112.9C507.8 117 510.2 121 512.5 124.7C514.9 128.5 517.3 132 519.6 135.2C522 138.4 524.4 141.3 526.8 143.8C529.1 146.4 531.5 148.5 533.9 150.4C536.2 152.2 538.6 153.7 541 154.8C543.4 156 545.7 156.9 548.1 157.5C550.5 158.2 552.8 158.6 555.2 159C557.6 159.3 560 159.6 562.3 159.9C564.7 160.2 567.1 160.6 569.4 161.2C571.8 161.8 574.2 162.6 576.5 163.7C578.9 164.9 581.3 166.5 583.7 168.6C586 170.7 588.4 173.3 590.8 176.6C593.1 179.9 595.5 183.9 597.9 188.6C600.3 193.4 602.6 198.9 605 205.3C607.4 211.6 609.7 218.8 612.1 226.9C614.5 235 616.9 244 619.2 253.8C621.6 263.7 624 274.4 626.3 286C628.7 297.5 631.1 309.9 633.5 323.1C635.8 336.3 638.2 350.2 640.6 364.7C642.9 379.3 645.3 394.5 647.7 410.2C650 425.9 652.4 442.1 654.8 458.7C657.2 475.3 659.5 492.3 661.9 509.4C664.3 526.6 666.6 544 669 561.4C671.4 578.9 673.8 596.3 676.1 613.7C678.5 631.1 680.9 648.4 683.2 665.5C685.6 682.5 688 699.3 690.3 715.8C692.7 732.2 695.1 748.3 697.5 764C699.8 779.6 702.2 794.8 704.6 809.5C706.9 824.1 709.3 838.3 711.7 851.8C714.1 865.3 716.4 878.3 718.8 890.6C721.2 902.9 723.5 914.6 725.9 925.7C728.3 936.7 730.7 947.2 733 957C735.4 966.8 737.8 976 740.1 984.6C742.5 993.1 744.9 1001.1 747.2 1008.5C749.6 1015.9 752 1022.8 754.4 1029.1C756.7 1035.4 759.1 1041.1 761.5 1046.4C763.8 1051.7 766.2 1056.6 768.6 1061C771 1065.3 773.3 1069.3 775.7 1072.9C778.1 1076.5 780.4 1079.7 782.8 1082.6C785.2 1085.4 787.6 1088 789.9 1090.3C792.3 1092.6 794.7 1094.6 797 1096.3C799.4 1098.1 801.8 1099.6 804.1 1101C806.5 1102.3 808.9 1103.5 811.3 1104.5C813.6 1105.5 816 1106.3 818.4 1107C820.7 1107.7 823.1 1108.3 825.5 1108.8C827.9 1109.3 830.2 1109.6 832.6 1109.9C835 1110.2 837.3 1110.4 839.7 1110.6C842.1 1110.8 844.5 1110.9 846.8 1110.9C849.2 1110.9 851.6 1110.9 853.9 1110.9C856.3 1110.9 858.7 1110.8 861 1110.7C863.4 1110.6 865.8 1110.5 868.2 1110.3C870.5 1110.2 872.9 1110 875.3 1109.8C877.6 1109.7 880 1109.5 882.4 1109.3C884.8 1109.1 887.1 1108.9 889.5 1108.7C891.9 1108.4 894.2 1108.2 896.6 1108C899 1107.8 901.4 1107.6 903.7 1107.3C906.1 1107.1 908.5 1106.9 910.8 1106.6C913.2 1106.4 915.6 1106.2 917.9 1106C920.3 1105.7 922.7 1105.5 925.1 1105.3C927.4 1105.1 929.8 1104.9 932.2 1104.7C934.5 1104.4 936.9 1104.2 939.3 1104C941.7 1103.8 944 1103.6 946.4 1103.4C948.8 1103.2 951.1 1103 953.5 1102.9C955.9 1102.7 958.3 1102.5 960.6 1102.3C963 1102.1 965.4 1102 967.7 1101.8C970.1 1101.7 972.5 1101.5 974.9 1101.4C977.2 1101.2 979.6 1101.1 982 1100.9C984.3 1100.8 986.7 1100.7 989.1 1100.6C991.4 1100.4 993.8 1100.3 996.2 1100.2C998.6 1100.1 1000.9 1100 1003.3 1099.9C1005.7 1099.9 1008 1099.8 1010.4 1099.7C1012.8 1099.6 1015.2 1099.6 1017.5 1099.5C1019.9 1099.5 1022.3 1099.4 1024.6 1099.4C1027 1099.3 1029.4 1099.3 1031.8 1099.3C1034.1 1099.3 1036.5 1099.3 1038.9 1099.3C1041.2 1099.2 1043.6 1099.3 1046 1099.3C1048.3 1099.3 1050.7 1099.3 1053.1 1099.3C1055.5 1099.4 1057.8 1099.4 1060.2 1099.5C1062.6 1099.5 1064.9 1099.6 1067.3 1099.6C1069.7 1099.7 1072.1 1099.8 1074.4 1099.8C1076.8 1099.9 1079.2 1100 1081.5 1100.1C1083.9 1100.2 1086.3 1100.3 1088.7 1100.4C1091 1100.5 1093.4 1100.7 1095.8 1100.8C1098.1 1100.9 1100.5 1101 1102.9 1101.2C1105.2 1101.3 1107.6 1101.5 1110 1101.6C1112.4 1101.8 1114.7 1101.9 1117.1 1102.1C1119.5 1102.3 1121.8 1102.5 1124.2 1102.6C1126.6 1102.8 1129 1103 1131.3 1103.2C1133.7 1103.4 1136.1 1103.6 1138.4 1103.8C1140.8 1104 1143.2 1104.2 1145.5 1104.4C1147.9 1104.6 1150.3 1104.9 1152.7 1105.1C1155 1105.3 1157.4 1105.5 1159.8 1105.8C1162.1 1106 1164.5 1106.2 1166.9 1106.5C1169.3 1106.7 1171.6 1106.9 1174 1107.2C1176.4 1107.4 1178.7 1107.7 1181.1 1107.9C1183.5 1108.2 1185.9 1108.4 1188.2 1108.7C1190.6 1108.9 1193 1109.2 1195.3 1109.4C1197.7 1109.7 1200.1 1109.9 1202.4 1110.2C1204.8 1110.5 1207.2 1110.7 1209.6 1111C1211.9 1111.2 1214.3 1111.5 1216.7 1111.8C1219 1112 1221.4 1112.3 1223.8 1112.5C1226.2 1112.8 1228.5 1113.1 1230.9 1113.3C1233.3 1113.6 1235.6 1113.8 1238 1114.1C1240.4 1114.3 1242.8 1114.6 1245.1 1114.9C1247.5 1115.1 1249.9 1115.4 1252.2 1115.6C1254.6 1115.9 1257 1116.1 1259.3 1116.4C1261.7 1116.6 1264.1 1116.9 1266.5 1117.1C1268.8 1117.3 1271.2 1117.6 1273.6 1117.8C1275.9 1118.1 1278.3 1118.3 1280.7 1118.5C1283.1 1118.8 1285.4 1119 1287.8 1119.2C1290.2 1119.5 1292.5 1119.7 1294.9 1119.9C1297.3 1120.1 1299.7 1120.3 1302 1120.6C1304.4 1120.8 1306.8 1121 1309.1 1121.2C1311.5 1121.4 1313.9 1121.6 1316.2 1121.8C1318.6 1122 1321 1122.2 1323.4 1122.4C1325.7 1122.6 1328.1 1122.8 1330.5 1123C1332.8 1123.1 1335.2 1123.3 1337.6 1123.5C1340 1123.7 1342.3 1123.8 1344.7 1124C1347.1 1124.2 1349.4 1124.4 1351.8 1124.5C1354.2 1124.7 1356.6 1124.8 1358.9 1125C1361.3 1125.2 1363.7 1125.3 1366 1125.4C1368.4 1125.6 1370.8 1125.7 1373.1 1125.9C1375.5 1126 1377.9 1126.2 1380.3 1126.3C1382.6 1126.4 1385 1126.5 1387.4 1126.7C1389.7 1126.8 1392.1 1126.9 1394.5 1127C1396.9 1127.2 1399.2 1127.3 1401.6 1127.4C1404 1127.5 1406.3 1127.6 1408.7 1127.7C1411.1 1127.8 1413.5 1127.9 1415.8 1128C1418.2 1128.1 1420.6 1128.2 1422.9 1128.3C1425.3 1128.4 1427.7 1128.5 1430 1128.6C1432.4 1128.6 1434.8 1128.7 1437.2 1128.8C1439.5 1128.9 1441.9 1129 1444.3 1129C1446.6 1129.1 1449 1129.2 1451.4 1129.3C1453.8 1129.3 1456.1 1129.4 1458.5 1129.5C1460.9 1129.5 1463.2 1129.6 1465.6 1129.6C1468 1129.7 1470.4 1129.8 1472.7 1129.8C1475.1 1129.9 1477.5 1129.9 1479.8 1130C1482.2 1130 1484.6 1130.1 1487 1130.1C1489.3 1130.2 1491.7 1130.2 1494.1 1130.2C1496.4 1130.3 1498.8 1130.3 1501.2 1130.4C1503.5 1130.4 1505.9 1130.4 1508.3 1130.5C1510.7 1130.5 1513 1130.5 1515.4 1130.6C1517.8 1130.6 1520.1 1130.6 1522.5 1130.7C1524.9 1130.7 1527.3 1130.7 1529.6 1130.8C1532 1130.8 1534.4 1130.8 1536.7 1130.8C1539.1 1130.9 1541.5 1130.9 1543.8 1130.9C1546.2 1130.9 1548.6 1131 1551 1131C1553.3 1131 1555.7 1131 1558.1 1131C1560.4 1131 1562.8 1131.1 1565.2 1131.1C1567.6 1131.1 1569.9 1131.1 1572.3 1131.1C1574.7 1131.1 1577 1131.2 1579.4 1131.2C1581.8 1131.2 1584.2 1131.2 1586.5 1131.2C1588.9 1131.2 1591.3 1131.2 1593.6 1131.2C1596 1131.3 1598.4 1131.3 1600.8 1131.3C1603.1 1131.3 1605.5 1131.3 1607.9 1131.3C1610.2 1131.3 1612.6 1131.3 1615 1131.3C1617.3 1131.3 1619.7 1131.3 1622.1 1131.3C1624.5 1131.4 1626.8 1131.4 1629.2 1131.4C1631.6 1131.4 1633.9 1131.4 1636.3 1131.4C1638.7 1131.4 1641.1 1131.4 1643.4 1131.4C1645.8 1131.4 1648.2 1131.4 1650.5 1131.4C1652.9 1131.4 1655.3 1131.4 1657.6 1131.4C1660 1131.4 1662.4 1131.4 1664.8 1131.4C1667.1 1131.4 1669.5 1131.4 1671.9 1131.4C1674.2 1131.4 1676.6 1131.4 1679 1131.4C1681.4 1131.5 1683.7 1131.5 1686.1 1131.5C1688.5 1131.5 1690.8 1131.5 1693.2 1131.5C1695.6 1131.5 1698 1131.5 1700.3 1131.5C1702.7 1131.5 1705.1 1131.5 1707.4 1131.5C1709.8 1131.5 1712.2 1131.5 1714.5 1131.5C1716.9 1131.5 1719.3 1131.5 1721.7 1131.5C1724 1131.5 1726.4 1131.5 1728.8 1131.5C1731.1 1131.5 1733.5 1131.5 1735.9 1131.5C1738.3 1131.5 1740.6 1131.5 1743 1131.5" stroke="#767171" stroke-width="11"/>
<path class="c" d="M320.5 1131.5H1745.9" stroke="#7030A0" stroke-width="11.2" stroke-dasharray="0 22.397" stroke-dashoffset="-7.8"/>
<path class="c" d="M320.5 1131.5C322.9 1131.5 325.2 1131.5 327.6 1131.5C330 1131.5 332.4 1131.5 334.7 1131.5C337.1 1131.5 339.5 1131.5 341.8 1131.5C344.2 1131.5 346.6 1131.5 348.9 1131.5C351.3 1131.5 353.7 1131.5 356.1 1131.5C358.4 1131.5 360.8 1131.5 363.2 1131.5C365.5 1131.5 367.9 1131.5 370.3 1131.5C372.7 1131.5 375 1131.5 377.4 1131.5C379.8 1131.5 382.1 1131.5 384.5 1131.5C386.9 1131.5 389.3 1131.5 391.6 1131.5C394 1131.5 396.4 1131.5 398.7 1131.5C401.1 1131.5 403.5 1131.5 405.9 1131.5C408.2 1131.5 410.6 1131.5 413 1131.5C415.3 1131.5 417.7 1131.5 420.1 1131.5C422.4 1131.5 424.8 1131.5 427.2 1131.5C429.6 1131.5 431.9 1131.5 434.3 1131.5C436.7 1131.5 439 1131.5 441.4 1131.5C443.8 1131.5 446.2 1131.5 448.5 1131.5C450.9 1131.5 453.3 1131.5 455.6 1131.5C458 1131.5 460.4 1131.5 462.8 1131.5C465.1 1131.5 467.5 1131.5 469.9 1131.5C472.2 1131.5 474.6 1131.5 477 1131.5C479.3 1131.5 481.7 1131.5 484.1 1131.5C486.5 1131.5 488.8 1131.5 491.2 1131.5C493.6 1131.5 495.9 1131.5 498.3 1131.5C500.7 1131.5 503.1 1131.5 505.4 1131.5C507.8 1131.5 510.2 1131.5 512.5 1131.5C514.9 1131.5 517.3 1131.5 519.6 1131.5C522 1131.5 524.4 1131.5 526.8 1131.5C529.1 1131.5 531.5 1131.5 533.9 1131.5C536.2 1131.5 538.6 1131.5 541 1131.5C543.4 1131.5 545.7 1131.5 548.1 1131.5C550.5 1131.5 552.8 1131.5 555.2 1131.5C557.6 1131.5 560 1131.5 562.3 1131.5C564.7 1131.5 567.1 1131.5 569.4 1131.5C571.8 1131.5 574.2 1131.5 576.5 1131.5C578.9 1131.5 581.3 1131.5 583.7 1131.5C586 1131.5 588.4 1131.5 590.8 1131.5C593.1 1131.5 595.5 1131.5 597.9 1131.5C600.3 1131.5 602.6 1131.5 605 1131.5C607.4 1131.5 609.7 1131.5 612.1 1131.5C614.5 1131.5 616.9 1131.5 619.2 1131.5C621.6 1131.5 624 1131.5 626.3 1131.5C628.7 1131.5 631.1 1131.5 633.5 1131.5C635.8 1131.5 638.2 1131.5 640.6 1131.5C642.9 1131.5 645.3 1131.5 647.7 1131.5C650 1131.5 652.4 1131.5 654.8 1131.5C657.2 1131.5 659.5 1131.5 661.9 1131.5C664.3 1131.5 666.6 1131.5 669 1131.5C671.4 1131.5 673.8 1131.5 676.1 1131.5C678.5 1131.5 680.9 1131.5 683.2 1131.5C685.6 1131.5 688 1131.5 690.3 1131.5C692.7 1131.5 695.1 1131.5 697.5 1131.5C699.8 1131.5 702.2 1131.5 704.6 1131.5C706.9 1131.5 709.3 1131.5 711.7 1131.5C714.1 1131.5 716.4 1131.5 718.8 1131.5C721.2 1131.5 723.5 1131.4 725.9 1131.4C728.3 1131.4 730.7 1131.4 733 1131.4C735.4 1131.4 737.8 1131.4 740.1 1131.4C742.5 1131.3 744.9 1131.3 747.2 1131.3C749.6 1131.3 752 1131.2 754.4 1131.2C756.7 1131.1 759.1 1131.1 761.5 1131C763.8 1131 766.2 1130.9 768.6 1130.8C771 1130.8 773.3 1130.7 775.7 1130.5C778.1 1130.4 780.4 1130.3 782.8 1130.1C785.2 1130 787.6 1129.8 789.9 1129.6C792.3 1129.4 794.7 1129.1 797 1128.8C799.4 1128.5 801.8 1128.2 804.1 1127.8C806.5 1127.4 808.9 1126.9 811.3 1126.4C813.6 1125.9 816 1125.3 818.4 1124.6C820.7 1123.9 823.1 1123.1 825.5 1122.2C827.9 1121.3 830.2 1120.3 832.6 1119.2C835 1118 837.3 1116.7 839.7 1115.3C842.1 1113.8 844.5 1112.2 846.8 1110.4C849.2 1108.6 851.6 1106.5 853.9 1104.3C856.3 1102 858.7 1099.5 861 1096.7C863.4 1093.9 865.8 1090.9 868.2 1087.5C870.5 1084.1 872.9 1080.5 875.3 1076.4C877.6 1072.4 880 1068 882.4 1063.2C884.8 1058.4 887.1 1053.3 889.5 1047.7C891.9 1042.1 894.2 1036.1 896.6 1029.6C899 1023.2 901.4 1016.3 903.7 1008.9C906.1 1001.6 908.5 993.8 910.8 985.5C913.2 977.2 915.6 968.4 917.9 959.2C920.3 950 922.7 940.3 925.1 930.2C927.4 920.1 929.8 909.6 932.2 898.7C934.5 887.7 936.9 876.4 939.3 864.8C941.7 853.1 944 841.2 946.4 828.9C948.8 816.7 951.1 804.3 953.5 791.6C955.9 779 958.3 766.2 960.6 753.4C963 740.6 965.4 727.7 967.7 714.9C970.1 702.1 972.5 689.4 974.9 676.9C977.2 664.4 979.6 652.1 982 640.1C984.3 628.1 986.7 616.5 989.1 605.3C991.4 594.2 993.8 583.5 996.2 573.3C998.6 563.2 1000.9 553.7 1003.3 544.8C1005.7 535.9 1008 527.8 1010.4 520.3C1012.8 512.9 1015.2 506.3 1017.5 500.4C1019.9 494.6 1022.3 489.6 1024.6 485.5C1027 481.3 1029.4 478 1031.8 475.5C1034.1 473.1 1036.5 471.5 1038.9 470.7C1041.2 469.9 1043.6 470 1046 470.7C1048.3 471.5 1050.7 473.1 1053.1 475.3C1055.5 477.5 1057.8 480.4 1060.2 483.8C1062.6 487.2 1064.9 491.2 1067.3 495.6C1069.7 500 1072.1 504.9 1074.4 510C1076.8 515.1 1079.2 520.5 1081.5 526C1083.9 531.5 1086.3 537.1 1088.7 542.7C1091 548.3 1093.4 553.9 1095.8 559.3C1098.1 564.7 1100.5 569.9 1102.9 574.8C1105.2 579.7 1107.6 584.3 1110 588.5C1112.4 592.6 1114.7 596.4 1117.1 599.6C1119.5 602.8 1121.8 605.4 1124.2 607.4C1126.6 609.5 1129 610.9 1131.3 611.6C1133.7 612.4 1136.1 612.4 1138.4 611.8C1140.8 611.1 1143.2 609.7 1145.5 607.6C1147.9 605.5 1150.3 602.7 1152.7 599.1C1155 595.6 1157.4 591.3 1159.8 586.3C1162.1 581.3 1164.5 575.7 1166.9 569.4C1169.3 563 1171.6 556.1 1174 548.5C1176.4 541 1178.7 532.8 1181.1 524.1C1183.5 515.4 1185.9 506.2 1188.2 496.6C1190.6 487 1193 476.9 1195.3 466.4C1197.7 456 1200.1 445.2 1202.4 434.1C1204.8 423 1207.2 411.7 1209.6 400.2C1211.9 388.6 1214.3 377 1216.7 365.2C1219 353.4 1221.4 341.5 1223.8 329.7C1226.2 317.9 1228.5 306 1230.9 294.3C1233.3 282.5 1235.6 270.9 1238 259.5C1240.4 248 1242.8 236.8 1245.1 225.8C1247.5 214.8 1249.9 204 1252.2 193.7C1254.6 183.3 1257 173.3 1259.3 163.7C1261.7 154 1264.1 144.8 1266.5 136.1C1268.8 127.4 1271.2 119.2 1273.6 111.5C1275.9 103.8 1278.3 96.6 1280.7 90.1C1283.1 83.5 1285.4 77.5 1287.8 72.2C1290.2 66.8 1292.5 62.1 1294.9 58C1297.3 54 1299.7 50.6 1302 47.9C1304.4 45.2 1306.8 43.1 1309.1 41.8C1311.5 40.5 1313.9 39.9 1316.2 39.9C1318.6 40 1321 40.8 1323.4 42.3C1325.7 43.8 1328.1 46 1330.5 48.9C1332.8 51.8 1335.2 55.3 1337.6 59.6C1340 63.8 1342.3 68.8 1344.7 74.3C1347.1 79.9 1349.4 86.1 1351.8 92.9C1354.2 99.7 1356.6 107.2 1358.9 115.2C1361.3 123.1 1363.7 131.7 1366 140.8C1368.4 149.9 1370.8 159.5 1373.1 169.5C1375.5 179.6 1377.9 190.2 1380.3 201.1C1382.6 212.1 1385 223.4 1387.4 235.1C1389.7 246.9 1392.1 258.9 1394.5 271.3C1396.9 283.7 1399.2 296.3 1401.6 309.2C1404 322.1 1406.3 335.2 1408.7 348.5C1411.1 361.8 1413.5 375.3 1415.8 388.9C1418.2 402.4 1420.6 416.1 1422.9 429.9C1425.3 443.6 1427.7 457.4 1430 471.2C1432.4 485 1434.8 498.8 1437.2 512.5C1439.5 526.2 1441.9 539.9 1444.3 553.5C1446.6 567.1 1449 580.6 1451.4 593.9C1453.8 607.2 1456.1 620.4 1458.5 633.4C1460.9 646.4 1463.2 659.2 1465.6 671.8C1468 684.4 1470.4 696.8 1472.7 708.9C1475.1 721 1477.5 732.9 1479.8 744.5C1482.2 756.1 1484.6 767.5 1487 778.5C1489.3 789.6 1491.7 800.3 1494.1 810.8C1496.4 821.3 1498.8 831.4 1501.2 841.3C1503.5 851.1 1505.9 860.6 1508.3 869.8C1510.7 879.1 1513 887.9 1515.4 896.5C1517.8 905.1 1520.1 913.4 1522.5 921.3C1524.9 929.3 1527.3 936.9 1529.6 944.2C1532 951.6 1534.4 958.6 1536.7 965.3C1539.1 972 1541.5 978.4 1543.8 984.6C1546.2 990.7 1548.6 996.5 1551 1002.1C1553.3 1007.7 1555.7 1013 1558.1 1018C1560.4 1023 1562.8 1027.8 1565.2 1032.3C1567.6 1036.8 1569.9 1041.1 1572.3 1045.2C1574.7 1049.2 1577 1053.1 1579.4 1056.7C1581.8 1060.3 1584.2 1063.7 1586.5 1066.9C1588.9 1070.1 1591.3 1073.1 1593.6 1075.9C1596 1078.7 1598.4 1081.4 1600.8 1083.9C1603.1 1086.3 1605.5 1088.7 1607.9 1090.8C1610.2 1093 1612.6 1095 1615 1096.9C1617.3 1098.8 1619.7 1100.6 1622.1 1102.2C1624.5 1103.9 1626.8 1105.4 1629.2 1106.8C1631.6 1108.2 1633.9 1109.5 1636.3 1110.7C1638.7 1112 1641.1 1113.1 1643.4 1114.1C1645.8 1115.2 1648.2 1116.1 1650.5 1117C1652.9 1117.9 1655.3 1118.7 1657.6 1119.5C1660 1120.2 1662.4 1120.9 1664.8 1121.6C1667.1 1122.2 1669.5 1122.8 1671.9 1123.3C1674.2 1123.8 1676.6 1124.3 1679 1124.8C1681.4 1125.2 1683.7 1125.6 1686.1 1126C1688.5 1126.4 1690.8 1126.7 1693.2 1127C1695.6 1127.3 1698 1127.6 1700.3 1127.9C1702.7 1128.1 1705.1 1128.4 1707.4 1128.6C1709.8 1128.8 1712.2 1129 1714.5 1129.1C1716.9 1129.3 1719.3 1129.5 1721.7 1129.6C1724 1129.7 1726.4 1129.9 1728.8 1130C1731.1 1130.1 1733.5 1130.2 1735.9 1130.3C1738.3 1130.4 1740.6 1130.5 1743 1130.5" stroke="#7030A0" stroke-width="11.2" stroke-dasharray="0 22.397" stroke-dashoffset="-0.34"/>
<path class="c" d="M320.5 1079.1C321.8 1078.7 323.2 1078.3 324.5 1077.9C325.8 1077.5 327.2 1077.1 328.5 1076.7C329.8 1076.3 331.2 1075.8 332.5 1075.4C333.8 1075 335.2 1074.5 336.5 1074.1C337.8 1073.6 339.2 1073.2 340.5 1072.7C341.8 1072.3 343.2 1071.8 344.5 1071.3C345.8 1070.8 347.2 1070.3 348.5 1069.9C349.8 1069.4 351.2 1068.9 352.5 1068.4C353.8 1067.9 355.2 1067.4 356.5 1066.8C357.8 1066.3 359.2 1065.8 360.5 1065.3C361.8 1064.7 363.2 1064.2 364.5 1063.7C365.8 1063.1 367.2 1062.6 368.5 1062C369.8 1061.5 371.2 1060.9 372.5 1060.3C373.8 1059.8 375.2 1059.2 376.5 1058.6C377.8 1058 379.2 1057.4 380.5 1056.8C381.8 1056.2 383.2 1055.6 384.5 1055C385.8 1054.4 387.2 1053.8 388.5 1053.2C389.8 1052.6 391.2 1052 392.5 1051.3C393.8 1050.7 395.2 1050.1 396.5 1049.4C397.8 1048.8 399.2 1048.1 400.5 1047.5C401.8 1046.8 403.2 1046.1 404.5 1045.5C405.8 1044.8 407.2 1044.1 408.5 1043.4C409.8 1042.8 411.2 1042.1 412.5 1041.4C413.8 1040.7 415.2 1040 416.5 1039.3C417.8 1038.6 419.2 1037.9 420.5 1037.2C421.8 1036.4 423.2 1035.7 424.5 1035C425.8 1034.3 427.2 1033.5 428.5 1032.8C429.8 1032 431.2 1031.3 432.5 1030.5C433.8 1029.8 435.2 1029 436.5 1028.3C437.8 1027.5 439.2 1026.7 440.5 1026C441.8 1025.2 443.2 1024.4 444.5 1023.6C445.8 1022.8 447.2 1022.1 448.5 1021.3C449.8 1020.5 451.2 1019.7 452.5 1018.8C453.8 1018 455.2 1017.2 456.5 1016.4C457.8 1015.6 459.2 1014.8 460.5 1013.9C461.8 1013.1 463.2 1012.3 464.5 1011.4C465.8 1010.6 467.2 1009.8 468.5 1008.9C469.8 1008.1 471.2 1007.2 472.5 1006.3C473.8 1005.5 475.2 1004.6 476.5 1003.7C477.8 1002.9 479.2 1002 480.5 1001.1C481.8 1000.2 483.2 999.4 484.5 998.5C485.8 997.6 487.2 996.7 488.5 995.8C489.8 994.9 491.2 994 492.5 993.1C493.8 992.2 495.2 991.3 496.5 990.3C497.8 989.4 499.2 988.5 500.5 987.6C501.8 986.7 503.2 985.7 504.5 984.8C505.8 983.9 507.2 982.9 508.5 982C509.8 981.1 511.2 980.1 512.5 979.2C513.8 978.2 515.2 977.3 516.5 976.3C517.8 975.4 519.2 974.4 520.5 973.5C521.8 972.5 523.2 971.6 524.5 970.6C525.8 969.6 527.2 968.7 528.5 967.7C529.8 966.7 531.2 965.8 532.5 964.8C533.8 963.8 535.2 962.8 536.5 961.8C537.8 960.9 539.2 959.9 540.5 958.9C541.8 957.9 543.2 956.9 544.5 955.9C545.8 955 547.2 954 548.5 953C549.8 952 551.2 951 552.5 950C553.8 949 555.2 948 556.5 947C557.8 946 559.2 945 560.5 944C561.8 943 563.2 942 564.5 941C565.8 940 567.2 938.9 568.5 937.9C569.8 936.9 571.2 935.9 572.5 934.9C573.8 933.9 575.2 932.9 576.5 931.9C577.8 930.8 579.2 929.8 580.5 928.8C581.8 927.8 583.2 926.8 584.5 925.8C585.8 924.8 587.2 923.7 588.5 922.7C589.8 921.7 591.2 920.7 592.5 919.7C593.8 918.6 595.2 917.6 596.5 916.6C597.8 915.6 599.2 914.6 600.5 913.5C601.8 912.5 603.2 911.5 604.5 910.5C605.8 909.5 607.2 908.5 608.5 907.4C609.8 906.4 611.2 905.4 612.5 904.4C613.8 903.4 615.2 902.3 616.5 901.3C617.8 900.3 619.2 899.3 620.5 898.3C621.8 897.3 623.2 896.2 624.5 895.2C625.8 894.2 627.2 893.2 628.5 892.2C629.8 891.2 631.2 890.2 632.5 889.2C633.8 888.2 635.2 887.1 636.5 886.1C637.8 885.1 639.2 884.1 640.5 883.1C641.8 882.1 643.2 881.1 644.5 880.1C645.8 879.1 647.2 878.1 648.5 877.1C649.8 876.1 651.2 875.1 652.5 874.1C653.8 873.1 655.2 872.1 656.5 871.2C657.8 870.2 659.2 869.2 660.5 868.2C661.8 867.2 663.2 866.2 664.5 865.2C665.8 864.3 667.2 863.3 668.5 862.3C669.8 861.3 671.2 860.3 672.5 859.4C673.8 858.4 675.2 857.4 676.5 856.5C677.8 855.5 679.2 854.5 680.5 853.6C681.8 852.6 683.2 851.6 684.5 850.7C685.8 849.7 687.2 848.8 688.5 847.8C689.8 846.9 691.2 845.9 692.5 845C693.8 844 695.2 843.1 696.5 842.2C697.8 841.2 699.2 840.3 700.5 839.3C701.8 838.4 703.2 837.5 704.5 836.6C705.8 835.6 707.2 834.7 708.5 833.8C709.8 832.9 711.2 832 712.5 831.1C713.8 830.1 715.2 829.2 716.5 828.3C717.8 827.4 719.2 826.5 720.5 825.6C721.8 824.7 723.2 823.9 724.5 823C725.8 822.1 727.2 821.2 728.5 820.3C729.8 819.4 731.2 818.6 732.5 817.7C733.8 816.8 735.2 816 736.5 815.1C737.8 814.2 739.2 813.4 740.5 812.5C741.8 811.7 743.2 810.8 744.5 810C745.8 809.1 747.2 808.3 748.5 807.5C749.8 806.6 751.2 805.8 752.5 805C753.8 804.2 755.2 803.4 756.5 802.5C757.8 801.7 759.2 800.9 760.5 800.1C761.8 799.3 763.2 798.5 764.5 797.7C765.8 796.9 767.2 796.2 768.5 795.4C769.8 794.6 771.2 793.8 772.5 793C773.8 792.3 775.2 791.5 776.5 790.8C777.8 790 779.2 789.3 780.5 788.5C781.8 787.8 783.2 787 784.5 786.3C785.8 785.6 787.2 784.8 788.5 784.1C789.8 783.4 791.2 782.7 792.5 782C793.8 781.2 795.2 780.5 796.5 779.8C797.8 779.1 799.2 778.4 800.5 777.8C801.8 777.1 803.2 776.4 804.5 775.7C805.8 775 807.2 774.4 808.5 773.7C809.8 773.1 811.2 772.4 812.5 771.7C813.8 771.1 815.2 770.5 816.5 769.8C817.8 769.2 819.2 768.5 820.5 767.9C821.8 767.3 823.2 766.7 824.5 766.1C825.8 765.4 827.2 764.8 828.5 764.2C829.8 763.6 831.2 763 832.5 762.4C833.8 761.9 835.2 761.3 836.5 760.7C837.8 760.1 839.2 759.5 840.5 759C841.8 758.4 843.2 757.9 844.5 757.3C845.8 756.7 847.2 756.2 848.5 755.7C849.8 755.1 851.2 754.6 852.5 754.1C853.8 753.5 855.2 753 856.5 752.5C857.8 752 859.2 751.5 860.5 751C861.8 750.4 863.2 749.9 864.5 749.5C865.8 749 867.2 748.5 868.5 748C869.8 747.5 871.2 747 872.5 746.6C873.8 746.1 875.2 745.7 876.5 745.2C877.8 744.7 879.2 744.3 880.5 743.8C881.8 743.4 883.2 743 884.5 742.5C885.8 742.1 887.2 741.7 888.5 741.3C889.8 740.8 891.2 740.4 892.5 740C893.8 739.6 895.2 739.2 896.5 738.8C897.8 738.4 899.2 738.1 900.5 737.7C901.8 737.3 903.2 736.9 904.5 736.6C905.8 736.2 907.2 735.8 908.5 735.5C909.8 735.1 911.2 734.8 912.5 734.4C913.8 734.1 915.2 733.7 916.5 733.4C917.8 733.1 919.2 732.8 920.5 732.4C921.8 732.1 923.2 731.8 924.5 731.5C925.8 731.2 927.2 730.9 928.5 730.6C929.5 730.4 930.5 730.2 931.5 730" stroke="#00B0F0" stroke-width="8.8" stroke-dasharray="26.41 35.215 0 35.215" stroke-dashoffset="0"/>
<path class="c" d="M320.5 1131.55H1745.9" stroke="#997300" stroke-width="6.6"/>
<path class="c" d="M320.5 1131.5H1745.9" stroke="#F00" stroke-width="8.8" stroke-dasharray="26.41 35.215 0 35.215" stroke-dashoffset="24.6"/>
<path class="c" d="M932.2 730.4C933.5 732.5 934.9 734.5 936.2 736.5C937.5 738.6 938.9 740.6 940.2 742.6C941.5 744.6 942.9 746.6 944.2 748.6C945.5 750.6 946.9 752.6 948.2 754.6C949.5 756.6 950.9 758.6 952.2 760.6C953.5 762.6 954.9 764.6 956.2 766.5C957.5 768.5 958.9 770.5 960.2 772.4C961.5 774.4 962.9 776.3 964.2 778.3C965.5 780.2 966.9 782.2 968.2 784.1C969.5 786 970.9 788 972.2 789.9C973.5 791.8 974.9 793.7 976.2 795.6C977.5 797.5 978.9 799.4 980.2 801.3C981.5 803.2 982.9 805.1 984.2 807C985.5 808.8 986.9 810.7 988.2 812.6C989.5 814.4 990.9 816.3 992.2 818.1C993.5 820 994.9 821.8 996.2 823.6C997.5 825.5 998.9 827.3 1000.2 829.1C1001.5 830.9 1002.9 832.7 1004.2 834.5C1005.5 836.3 1006.9 838.1 1008.2 839.9C1009.5 841.7 1010.9 843.4 1012.2 845.2C1013.5 847 1014.9 848.7 1016.2 850.5C1017.5 852.2 1018.9 854 1020.2 855.7C1021.5 857.4 1022.9 859.1 1024.2 860.8C1025.5 862.6 1026.9 864.3 1028.2 865.9C1029.5 867.6 1030.9 869.3 1032.2 871C1033.5 872.7 1034.9 874.3 1036.2 876C1037.5 877.6 1038.9 879.3 1040.2 880.9C1041.5 882.6 1042.9 884.2 1044.2 885.8C1045.5 887.4 1046.9 889 1048.2 890.6C1049.5 892.2 1050.9 893.8 1052.2 895.3C1053.5 896.9 1054.9 898.5 1056.2 900C1057.5 901.6 1058.9 903.1 1060.2 904.6C1061.5 906.2 1062.9 907.7 1064.2 909.2C1065.5 910.7 1066.9 912.2 1068.2 913.7C1069.5 915.2 1070.9 916.7 1072.2 918.1C1073.5 919.6 1074.9 921.1 1076.2 922.5C1077.5 923.9 1078.9 925.4 1080.2 926.8C1081.5 928.2 1082.9 929.7 1084.2 931.1C1085.5 932.5 1086.9 933.9 1088.2 935.2C1089.5 936.6 1090.9 938 1092.2 939.4C1093.5 940.7 1094.9 942.1 1096.2 943.4C1097.5 944.8 1098.9 946.1 1100.2 947.4C1101.5 948.8 1102.9 950.1 1104.2 951.4C1105.5 952.7 1106.9 954 1108.2 955.3C1109.5 956.5 1110.9 957.8 1112.2 959.1C1113.5 960.3 1114.9 961.6 1116.2 962.8C1117.5 964.1 1118.9 965.3 1120.2 966.6C1121.5 967.8 1122.9 969 1124.2 970.2C1125.5 971.4 1126.9 972.6 1128.2 973.8C1129.5 975 1130.9 976.2 1132.2 977.3C1133.5 978.5 1134.9 979.7 1136.2 980.8C1137.5 981.9 1138.9 983.1 1140.2 984.2C1141.5 985.3 1142.9 986.5 1144.2 987.6C1145.5 988.7 1146.9 989.8 1148.2 990.9C1149.5 992 1150.9 993.1 1152.2 994.1C1153.5 995.2 1154.9 996.3 1156.2 997.3C1157.5 998.4 1158.9 999.4 1160.2 1000.5C1161.5 1001.5 1162.9 1002.5 1164.2 1003.6C1165.5 1004.6 1166.9 1005.6 1168.2 1006.6C1169.5 1007.6 1170.9 1008.6 1172.2 1009.6C1173.5 1010.5 1174.9 1011.5 1176.2 1012.5C1177.5 1013.5 1178.9 1014.4 1180.2 1015.4C1181.5 1016.3 1182.9 1017.2 1184.2 1018.2C1185.5 1019.1 1186.9 1020 1188.2 1020.9C1189.5 1021.8 1190.9 1022.8 1192.2 1023.6C1193.5 1024.5 1194.9 1025.4 1196.2 1026.3C1197.5 1027.2 1198.9 1028.1 1200.2 1028.9C1201.5 1029.8 1202.9 1030.6 1204.2 1031.5C1205.5 1032.3 1206.9 1033.1 1208.2 1034C1209.5 1034.8 1210.9 1035.6 1212.2 1036.4C1213.5 1037.2 1214.9 1038 1216.2 1038.8C1217.5 1039.6 1218.9 1040.4 1220.2 1041.2C1221.5 1042 1222.9 1042.7 1224.2 1043.5C1225.5 1044.2 1226.9 1045 1228.2 1045.7C1229.5 1046.5 1230.9 1047.2 1232.2 1048C1233.5 1048.7 1234.9 1049.4 1236.2 1050.1C1237.5 1050.8 1238.9 1051.5 1240.2 1052.2C1241.5 1052.9 1242.9 1053.6 1244.2 1054.3C1245.5 1055 1246.9 1055.6 1248.2 1056.3C1249.5 1057 1250.9 1057.6 1252.2 1058.3C1253.5 1058.9 1254.9 1059.5 1256.2 1060.2C1257.5 1060.8 1258.9 1061.4 1260.2 1062.1C1261.5 1062.7 1262.9 1063.3 1264.2 1063.9C1265.5 1064.5 1266.9 1065.1 1268.2 1065.7C1269.5 1066.3 1270.9 1066.8 1272.2 1067.4C1273.5 1068 1274.9 1068.6 1276.2 1069.1C1277.5 1069.7 1278.9 1070.2 1280.2 1070.8C1281.5 1071.3 1282.9 1071.9 1284.2 1072.4C1285.5 1072.9 1286.9 1073.5 1288.2 1074C1289.5 1074.5 1290.9 1075 1292.2 1075.5C1293.5 1076 1294.9 1076.5 1296.2 1077C1297.5 1077.5 1298.9 1078 1300.2 1078.5C1301.5 1079 1302.9 1079.4 1304.2 1079.9C1305.5 1080.4 1306.9 1080.8 1308.2 1081.3C1309.5 1081.7 1310.9 1082.2 1312.2 1082.6C1313.5 1083.1 1314.9 1083.5 1316.2 1083.9C1317.5 1084.4 1318.9 1084.8 1320.2 1085.2C1321.5 1085.6 1322.9 1086.1 1324.2 1086.5C1325.5 1086.9 1326.9 1087.3 1328.2 1087.7C1329.5 1088.1 1330.9 1088.5 1332.2 1088.9C1333.5 1089.2 1334.9 1089.6 1336.2 1090C1337.5 1090.4 1338.9 1090.7 1340.2 1091.1C1341.5 1091.5 1342.9 1091.8 1344.2 1092.2C1345.5 1092.5 1346.9 1092.9 1348.2 1093.2C1349.5 1093.6 1350.9 1093.9 1352.2 1094.3C1353.5 1094.6 1354.9 1094.9 1356.2 1095.3C1357.5 1095.6 1358.9 1095.9 1360.2 1096.2C1361.5 1096.5 1362.9 1096.8 1364.2 1097.1C1365.5 1097.5 1366.9 1097.8 1368.2 1098.1C1369.5 1098.4 1370.9 1098.6 1372.2 1098.9C1373.5 1099.2 1374.9 1099.5 1376.2 1099.8C1377.5 1100.1 1378.9 1100.4 1380.2 1100.6C1381.5 1100.9 1382.9 1101.2 1384.2 1101.4C1385.5 1101.7 1386.9 1102 1388.2 1102.2C1389.5 1102.5 1390.9 1102.7 1392.2 1103C1393.5 1103.2 1394.9 1103.5 1396.2 1103.7C1397.5 1103.9 1398.9 1104.2 1400.2 1104.4C1401.5 1104.7 1402.9 1104.9 1404.2 1105.1C1405.5 1105.3 1406.9 1105.6 1408.2 1105.8C1409.5 1106 1410.9 1106.2 1412.2 1106.4C1413.5 1106.7 1414.9 1106.9 1416.2 1107.1C1417.5 1107.3 1418.9 1107.5 1420.2 1107.7C1421.5 1107.9 1422.9 1108.1 1424.2 1108.3C1425.5 1108.5 1426.9 1108.7 1428.2 1108.9C1429.5 1109.1 1430.9 1109.2 1432.2 1109.4C1433.5 1109.6 1434.9 1109.8 1436.2 1110C1437.5 1110.2 1438.9 1110.3 1440.2 1110.5C1441.5 1110.7 1442.9 1110.9 1444.2 1111C1445.5 1111.2 1446.9 1111.4 1448.2 1111.5C1449.5 1111.7 1450.9 1111.9 1452.2 1112C1453.5 1112.2 1454.9 1112.3 1456.2 1112.5C1457.5 1112.7 1458.9 1112.8 1460.2 1113C1461.5 1113.1 1462.9 1113.3 1464.2 1113.4C1465.5 1113.6 1466.9 1113.7 1468.2 1113.9C1469.5 1114 1470.9 1114.2 1472.2 1114.3C1473.5 1114.5 1474.9 1114.6 1476.2 1114.7C1477.5 1114.9 1478.9 1115 1480.2 1115.2C1481.5 1115.3 1482.9 1115.4 1484.2 1115.6C1485.5 1115.7 1486.9 1115.8 1488.2 1116C1489.5 1116.1 1490.9 1116.2 1492.2 1116.4C1493.5 1116.5 1494.9 1116.6 1496.2 1116.7C1497.5 1116.9 1498.9 1117 1500.2 1117.1C1501.5 1117.2 1502.9 1117.4 1504.2 1117.5C1505.5 1117.6 1506.9 1117.7 1508.2 1117.8C1509.5 1117.9 1510.9 1118.1 1512.2 1118.2C1513.5 1118.3 1514.9 1118.4 1516.2 1118.5C1517.5 1118.6 1518.9 1118.7 1520.2 1118.9C1521.5 1119 1522.9 1119.1 1524.2 1119.2C1525.5 1119.3 1526.9 1119.4 1528.2 1119.5C1529.5 1119.6 1530.9 1119.7 1532.2 1119.8C1533.5 1119.9 1534.9 1120 1536.2 1120.1C1537.5 1120.2 1538.9 1120.3 1540.2 1120.4C1541.5 1120.5 1542.9 1120.6 1544.2 1120.7C1545.5 1120.8 1546.9 1120.9 1548.2 1121C1549.5 1121.1 1550.9 1121.1 1552.2 1121.2C1553.5 1121.3 1554.9 1121.4 1556.2 1121.5C1557.5 1121.6 1558.9 1121.7 1560.2 1121.8C1561.5 1121.8 1562.9 1121.9 1564.2 1122C1565.5 1122.1 1566.9 1122.2 1568.2 1122.3C1569.5 1122.3 1570.9 1122.4 1572.2 1122.5C1573.5 1122.6 1574.9 1122.6 1576.2 1122.7C1577.5 1122.8 1578.9 1122.9 1580.2 1122.9C1581.5 1123 1582.9 1123.1 1584.2 1123.2C1585.5 1123.2 1586.9 1123.3 1588.2 1123.4C1589.5 1123.4 1590.9 1123.5 1592.2 1123.6C1593.5 1123.6 1594.9 1123.7 1596.2 1123.8C1597.5 1123.8 1598.9 1123.9 1600.2 1124C1601.5 1124 1602.9 1124.1 1604.2 1124.2C1605.5 1124.2 1606.9 1124.3 1608.2 1124.3C1609.5 1124.4 1610.9 1124.5 1612.2 1124.5C1613.5 1124.6 1614.9 1124.6 1616.2 1124.7C1617.5 1124.7 1618.9 1124.8 1620.2 1124.9C1621.5 1124.9 1622.9 1125 1624.2 1125C1625.5 1125.1 1626.9 1125.1 1628.2 1125.2C1629.5 1125.2 1630.9 1125.3 1632.2 1125.3C1633.5 1125.4 1634.9 1125.4 1636.2 1125.5C1637.5 1125.5 1638.9 1125.6 1640.2 1125.6C1641.5 1125.7 1642.9 1125.7 1644.2 1125.7C1645.5 1125.8 1646.9 1125.8 1648.2 1125.9C1649.5 1125.9 1650.9 1126 1652.2 1126C1653.5 1126 1654.9 1126.1 1656.2 1126.1C1657.5 1126.2 1658.9 1126.2 1660.2 1126.2C1661.5 1126.3 1662.9 1126.3 1664.2 1126.3C1665.5 1126.4 1666.9 1126.4 1668.2 1126.5C1669.5 1126.5 1670.9 1126.5 1672.2 1126.6C1673.5 1126.6 1674.9 1126.6 1676.2 1126.7C1677.5 1126.7 1678.9 1126.7 1680.2 1126.8C1681.5 1126.8 1682.9 1126.8 1684.2 1126.9C1685.5 1126.9 1686.9 1126.9 1688.2 1126.9C1689.5 1127 1690.9 1127 1692.2 1127C1693.5 1127.1 1694.9 1127.1 1696.2 1127.1C1697.5 1127.1 1698.9 1127.2 1700.2 1127.2C1701.5 1127.2 1702.9 1127.2 1704.2 1127.3C1705.5 1127.3 1706.9 1127.3 1708.2 1127.3C1709.5 1127.4 1710.9 1127.4 1712.2 1127.4C1713.5 1127.4 1714.9 1127.5 1716.2 1127.5C1717.5 1127.5 1718.9 1127.5 1720.2 1127.5C1721.5 1127.6 1722.9 1127.6 1724.2 1127.6C1725.5 1127.6 1726.9 1127.6 1728.2 1127.7C1729.5 1127.7 1730.9 1127.7 1732.2 1127.7C1733.5 1127.7 1734.9 1127.8 1736.2 1127.8C1737.5 1127.8 1738.9 1127.8 1740.2 1127.8C1741.5 1127.8 1742.9 1127.9 1744.2 1127.9C1744.5 1127.9 1744.7 1127.9 1745 1127.9" stroke="#F00" stroke-width="8.8" stroke-dasharray="26.41 35.215 0 35.215" stroke-dashoffset="0"/>
</g>
<rect x="714.5" y="86.25" width="320.0" height="285.5" rx="46" ry="46" fill="none" stroke="#FF0" stroke-width="4.5" stroke-dasharray="13.35 4.45" stroke-dashoffset="2.5"/>
<g fill="none" stroke="#5B9BD5" stroke-width="2.3">
<path d="M405.7 795.8C470.7 795.8 523.4 812.6 523.4 833.4C523.4 854.2 576 871 641 871"/>
<path d="M1525.2 598.2C1525.2 691.8 1466.8 767.6 1394.8 767.6C1322.9 767.6 1264.5 843.4 1264.5 937"/>
<path d="M1685.7 868.2C1547.8 868.2 1436 900.9 1436 941.2C1436 981.6 1324.2 1014.2 1186.2 1014.2"/>
<path d="M828 150.75L774 248"/>
<path d="M886.25 149.5L943.5 241"/>
</g>
<g fill="#5B9BD5">
<path d="M762 269.5L763.25 240L786.25 253Z"/>
<path d="M957 263L954.5 233.25L931.75 247.5Z"/>
<path d="M641 871L614.5 857.5L614.5 884Z"/>
<path d="M1264.5 937L1252.5 910.75L1278.25 910.75Z"/>
<path d="M1186.25 1014.25L1213 1000L1213 1026.25Z"/>
</g>
<g>
<text transform="matrix(0.6095 0 0 0.7159 549.58 104.70)" font-family="'Liberation Sans',sans-serif" font-size="100" fill="#767171" font-weight="bold" stroke="#767171" stroke-width="1.6" stroke-linejoin="round" vector-effect="non-scaling-stroke">Y</text>
<text transform="matrix(0.4525 0 0 0.4563 591.67 123.74)" font-family="'Liberation Sans',sans-serif" font-size="100" fill="#767171" font-weight="bold" stroke="#767171" stroke-width="1.6" stroke-linejoin="round" vector-effect="non-scaling-stroke">3</text>
<text transform="matrix(0.6147 0 0 0.7087 1122.69 64.20)" font-family="'Liberation Sans',sans-serif" font-size="100" fill="#C55A11" font-weight="bold" stroke="#C55A11" stroke-width="1.6" stroke-linejoin="round" vector-effect="non-scaling-stroke">X</text>
<text transform="matrix(0.6186 0 0 0.7159 836.18 168.20)" font-family="'Liberation Sans',sans-serif" font-size="100" fill="#C55A11" font-weight="bold" stroke="#C55A11" stroke-width="1.6" stroke-linejoin="round" vector-effect="non-scaling-stroke">X</text>
<text transform="matrix(0.6175 0 0 0.7087 739.57 322.20)" font-family="'Liberation Sans',sans-serif" font-size="100" fill="#00B050" font-weight="bold" stroke="#00B050" stroke-width="1.6" stroke-linejoin="round" vector-effect="non-scaling-stroke">Y</text>
<text transform="matrix(0.4172 0 0 0.4623 783.09 342.70)" font-family="'Liberation Sans',sans-serif" font-size="100" fill="#00B050" font-weight="bold" stroke="#00B050" stroke-width="1.6" stroke-linejoin="round" vector-effect="non-scaling-stroke">1</text>
<text transform="matrix(0.6175 0 0 0.7087 944.07 322.20)" font-family="'Liberation Sans',sans-serif" font-size="100" fill="#767171" font-weight="bold" stroke="#767171" stroke-width="1.6" stroke-linejoin="round" vector-effect="non-scaling-stroke">Y</text>
<text transform="matrix(0.4525 0 0 0.4563 986.67 342.24)" font-family="'Liberation Sans',sans-serif" font-size="100" fill="#767171" font-weight="bold" stroke="#767171" stroke-width="1.6" stroke-linejoin="round" vector-effect="non-scaling-stroke">3</text>
<text transform="matrix(0.6095 0 0 0.7232 855.58 479.20)" font-family="'Liberation Sans',sans-serif" font-size="100" fill="#00B050" font-weight="bold" stroke="#00B050" stroke-width="1.6" stroke-linejoin="round" vector-effect="non-scaling-stroke">Y</text>
<text transform="matrix(0.4387 0 0 0.4696 897.95 499.20)" font-family="'Liberation Sans',sans-serif" font-size="100" fill="#00B050" font-weight="bold" stroke="#00B050" stroke-width="1.6" stroke-linejoin="round" vector-effect="non-scaling-stroke">1</text>
<text transform="matrix(0.6845 0 0 0.7139 1427.45 258.76)" font-family="'Liberation Sans',sans-serif" font-size="100" fill="#000" font-weight="bold" stroke="#000" stroke-width="1.6" stroke-linejoin="round" vector-effect="non-scaling-stroke">SPM</text>
<text transform="matrix(0.5860 0 0 0.7139 1529.74 624.56)" font-family="'Liberation Sans',sans-serif" font-size="100" fill="#000" font-weight="bold" stroke="#000" stroke-width="1.6" stroke-linejoin="round" vector-effect="non-scaling-stroke">P</text>
<text transform="matrix(0.5011 0 0 0.5338 1569.20 644.47)" font-family="'Liberation Sans',sans-serif" font-size="100" fill="#000" font-weight="bold" stroke="#000" stroke-width="1.6" stroke-linejoin="round" vector-effect="non-scaling-stroke">0</text>
<text transform="matrix(0.6217 0 0 0.7145 359.68 789.60)" font-family="'Liberation Sans',sans-serif" font-size="100" fill="#00B0F0" font-weight="bold" stroke="#00B0F0" stroke-width="1.6" stroke-linejoin="round" vector-effect="non-scaling-stroke">X</text>
<text transform="matrix(1.0205 0 0 1.0575 398.68 804.26)" font-family="'DejaVu Sans',sans-serif" font-size="100" fill="#00B0F0" font-weight="200" stroke="#00B0F0" stroke-width="1.0" stroke-linejoin="round" vector-effect="non-scaling-stroke">→</text>
<text transform="matrix(0.6238 0 0 0.7145 481.65 789.60)" font-family="'Liberation Sans',sans-serif" font-size="100" fill="#00B0F0" font-weight="bold" stroke="#00B0F0" stroke-width="1.6" stroke-linejoin="round" vector-effect="non-scaling-stroke">Y</text>
<text transform="matrix(0.4237 0 0 0.4710 524.65 809.30)" font-family="'Liberation Sans',sans-serif" font-size="100" fill="#00B0F0" font-weight="bold" stroke="#00B0F0" stroke-width="1.6" stroke-linejoin="round" vector-effect="non-scaling-stroke">1</text>
<text transform="matrix(0.6186 0 0 0.7188 1565.58 855.60)" font-family="'Liberation Sans',sans-serif" font-size="100" fill="#F00" font-weight="bold" stroke="#F00" stroke-width="1.6" stroke-linejoin="round" vector-effect="non-scaling-stroke">X</text>
<text transform="matrix(1.0260 0 0 1.0550 1604.14 869.73)" font-family="'DejaVu Sans',sans-serif" font-size="100" fill="#F00" font-weight="200" stroke="#F00" stroke-width="1.0" stroke-linejoin="round" vector-effect="non-scaling-stroke">→</text>
<text transform="matrix(0.6190 0 0 0.7188 1687.56 855.60)" font-family="'Liberation Sans',sans-serif" font-size="100" fill="#F00" font-weight="bold" stroke="#F00" stroke-width="1.6" stroke-linejoin="round" vector-effect="non-scaling-stroke">Y</text>
<text transform="matrix(0.4465 0 0 0.4831 1730.08 875.82)" font-family="'Liberation Sans',sans-serif" font-size="100" fill="#F00" font-weight="bold" stroke="#F00" stroke-width="1.6" stroke-linejoin="round" vector-effect="non-scaling-stroke">3</text>
</g>
<g fill="#000">
<text transform="matrix(0.4370 0 0 0.4348 938.35 1235.55)" font-family="'Liberation Sans',sans-serif" font-size="100" fill="#000" font-weight="bold" stroke="#000" stroke-width="0.5" stroke-linejoin="round" vector-effect="non-scaling-stroke">Wavelength</text>
<text transform="matrix(0.5705 0 0 0.4927 1204.49 1237.47)" font-family="'DejaVu Sans',sans-serif" font-size="100" fill="#000" font-weight="200" stroke="#000" stroke-width="0.9" stroke-linejoin="round" vector-effect="non-scaling-stroke">/</text>
<text transform="matrix(0.4579 0 0 0.4389 1235.57 1235.55)" font-family="'Liberation Sans',sans-serif" font-size="100" fill="#000" stroke="#000" stroke-width="0.5" stroke-linejoin="round" vector-effect="non-scaling-stroke">nm</text>
</g>
<g transform="translate(35.8 0) rotate(-90)" fill="#000">
<text transform="matrix(0.4251 0 0 0.4522 -1123.71 -0.25)" font-family="'Liberation Sans',sans-serif" font-size="100" fill="#000" font-weight="bold" stroke="#000" stroke-width="0.5" stroke-linejoin="round" vector-effect="non-scaling-stroke">Absorptivities,</text>
<text transform="matrix(0.4000 0 0 0.4364 -827.35 0.31)" font-family="'Liberation Sans',sans-serif" font-size="100" fill="#000" font-weight="bold" font-style="italic" stroke="#000" stroke-width="0.5" stroke-linejoin="round" vector-effect="non-scaling-stroke">ε</text>
<text transform="matrix(0.5967 0 0 0.4963 -784.25 0.63)" font-family="'DejaVu Sans',sans-serif" font-size="100" fill="#000" font-weight="200" stroke="#000" stroke-width="0.9" stroke-linejoin="round" vector-effect="non-scaling-stroke">/</text>
<text transform="matrix(0.4716 0 0 0.4420 -753.22 -0.25)" font-family="'Liberation Sans',sans-serif" font-size="100" fill="#000" stroke="#000" stroke-width="0.5" stroke-linejoin="round" vector-effect="non-scaling-stroke">M</text>
<text transform="matrix(0.2780 0 0 0.2928 -711.80 -15.05)" font-family="'Liberation Sans',sans-serif" font-size="100" fill="#000" stroke="#000" stroke-width="0.5" stroke-linejoin="round" vector-effect="non-scaling-stroke">-1</text>
<text transform="matrix(0.4443 0 0 0.4273 -674.95 -0.18)" font-family="'Liberation Sans',sans-serif" font-size="100" fill="#000" stroke="#000" stroke-width="0.5" stroke-linejoin="round" vector-effect="non-scaling-stroke">cm</text>
<text transform="matrix(0.2855 0 0 0.2928 -614.83 -15.05)" font-family="'Liberation Sans',sans-serif" font-size="100" fill="#000" stroke="#000" stroke-width="0.5" stroke-linejoin="round" vector-effect="non-scaling-stroke">-1</text>
<text transform="matrix(0.6105 0 0 0.4458 -590.70 0.63)" font-family="'Liberation Sans',sans-serif" font-size="100" fill="#000" stroke="#000" stroke-width="0.6" stroke-linejoin="round" vector-effect="non-scaling-stroke">;</text>
<text transform="matrix(0.4385 0 0 0.4259 -564.10 -0.25)" font-family="'Liberation Sans',sans-serif" font-size="100" fill="#000" font-weight="bold" stroke="#000" stroke-width="0.5" stroke-linejoin="round" vector-effect="non-scaling-stroke">Quantum</text>
<text transform="matrix(0.4303 0 0 0.4464 -359.81 -0.25)" font-family="'Liberation Sans',sans-serif" font-size="100" fill="#000" font-weight="bold" stroke="#000" stroke-width="0.5" stroke-linejoin="round" vector-effect="non-scaling-stroke">Yield,</text>
<text transform="matrix(0.4640 0 0 0.5262 -236.76 0.66)" font-family="'Liberation Serif',serif" font-size="100" fill="#000" font-weight="bold">Φ</text>
<text transform="matrix(0.3957 0 0 0.4245 -187.44 -0.25)" font-family="'Liberation Sans',sans-serif" font-size="100" fill="#000" stroke="#000" stroke-width="0.5" stroke-linejoin="round" vector-effect="non-scaling-stroke">x</text>
<text transform="matrix(0.4387 0 0 0.4451 -155.72 -0.30)" font-family="'Liberation Sans',sans-serif" font-size="100" fill="#000" stroke="#000" stroke-width="0.5" stroke-linejoin="round" vector-effect="non-scaling-stroke">9</text>
<text transform="matrix(0.4380 0 0 0.4451 -118.33 -0.30)" font-family="'Liberation Sans',sans-serif" font-size="100" fill="#000" stroke="#000" stroke-width="0.5" stroke-linejoin="round" vector-effect="non-scaling-stroke">10</text>
<text transform="matrix(0.2900 0 0 0.2928 -70.07 -15.05)" font-family="'Liberation Sans',sans-serif" font-size="100" fill="#000" stroke="#000" stroke-width="0.5" stroke-linejoin="round" vector-effect="non-scaling-stroke">4</text>
<text transform="matrix(0.6105 0 0 0.4458 -56.20 0.63)" font-family="'Liberation Sans',sans-serif" font-size="100" fill="#000" stroke="#000" stroke-width="0.6" stroke-linejoin="round" vector-effect="non-scaling-stroke">;</text>
</g>
<g transform="translate(95.5 0) rotate(-90)" fill="#000">
<text transform="matrix(0.4246 0 0 0.4540 -1088.91 -0.25)" font-family="'Liberation Sans',sans-serif" font-size="100" fill="#000" font-weight="bold" stroke="#000" stroke-width="0.5" stroke-linejoin="round" vector-effect="non-scaling-stroke">Radiation</text>
<text transform="matrix(0.4383 0 0 0.4259 -882.92 -0.25)" font-family="'Liberation Sans',sans-serif" font-size="100" fill="#000" font-weight="bold" stroke="#000" stroke-width="0.5" stroke-linejoin="round" vector-effect="non-scaling-stroke">intensity,</text>
<text transform="matrix(0.3509 0 0 0.4511 -680.03 -0.02)" font-family="'Liberation Sans',sans-serif" font-size="100" fill="#000" font-weight="bold" stroke="#000" stroke-width="0.5" stroke-linejoin="round" vector-effect="non-scaling-stroke">P</text>
<text transform="matrix(0.2736 0 0 0.2891 -654.94 11.76)" font-family="'Liberation Sans',sans-serif" font-size="100" fill="#000" font-weight="bold" stroke="#000" stroke-width="0.5" stroke-linejoin="round" vector-effect="non-scaling-stroke">o</text>
<text transform="matrix(0.3830 0 0 0.4245 -625.82 -0.25)" font-family="'Liberation Sans',sans-serif" font-size="100" fill="#000" stroke="#000" stroke-width="0.5" stroke-linejoin="round" vector-effect="non-scaling-stroke">x</text>
<text transform="matrix(0.4023 0 0 0.4464 -593.37 -0.25)" font-family="'Liberation Sans',sans-serif" font-size="100" fill="#000" stroke="#000" stroke-width="0.5" stroke-linejoin="round" vector-effect="non-scaling-stroke">1</text>
<text transform="matrix(0.4320 0 0 0.4451 -558.09 -0.30)" font-family="'Liberation Sans',sans-serif" font-size="100" fill="#000" stroke="#000" stroke-width="0.5" stroke-linejoin="round" vector-effect="non-scaling-stroke">10</text>
<text transform="matrix(0.2880 0 0 0.2958 -508.51 -15.35)" font-family="'Liberation Sans',sans-serif" font-size="100" fill="#000" stroke="#000" stroke-width="0.5" stroke-linejoin="round" vector-effect="non-scaling-stroke">10</text>
<text transform="matrix(0.5770 0 0 0.4976 -465.42 1.02)" font-family="'DejaVu Sans',sans-serif" font-size="100" fill="#000" font-weight="200" stroke="#000" stroke-width="0.9" stroke-linejoin="round" vector-effect="non-scaling-stroke">/</text>
<text transform="matrix(0.4624 0 0 0.4491 -436.03 0.00)" font-family="'Liberation Sans',sans-serif" font-size="100" fill="#000" stroke="#000" stroke-width="0.5" stroke-linejoin="round" vector-effect="non-scaling-stroke">einstein</text>
<text transform="matrix(0.4529 0 0 0.4531 -265.76 -0.30)" font-family="'Liberation Sans',sans-serif" font-size="100" fill="#000" stroke="#000" stroke-width="0.5" stroke-linejoin="round" vector-effect="non-scaling-stroke">dm</text>
<text transform="matrix(0.2925 0 0 0.2958 -201.87 -15.35)" font-family="'Liberation Sans',sans-serif" font-size="100" fill="#000" stroke="#000" stroke-width="0.5" stroke-linejoin="round" vector-effect="non-scaling-stroke">-3</text>
<text transform="matrix(0.3655 0 0 0.4312 -163.35 -0.18)" font-family="'Liberation Sans',sans-serif" font-size="100" fill="#000" stroke="#000" stroke-width="0.5" stroke-linejoin="round" vector-effect="non-scaling-stroke">s</text>
<text transform="matrix(0.2906 0 0 0.2986 -144.16 -15.25)" font-family="'Liberation Sans',sans-serif" font-size="100" fill="#000" stroke="#000" stroke-width="0.5" stroke-linejoin="round" vector-effect="non-scaling-stroke">-1</text>
</g>
</svg>
</body>
</html>
